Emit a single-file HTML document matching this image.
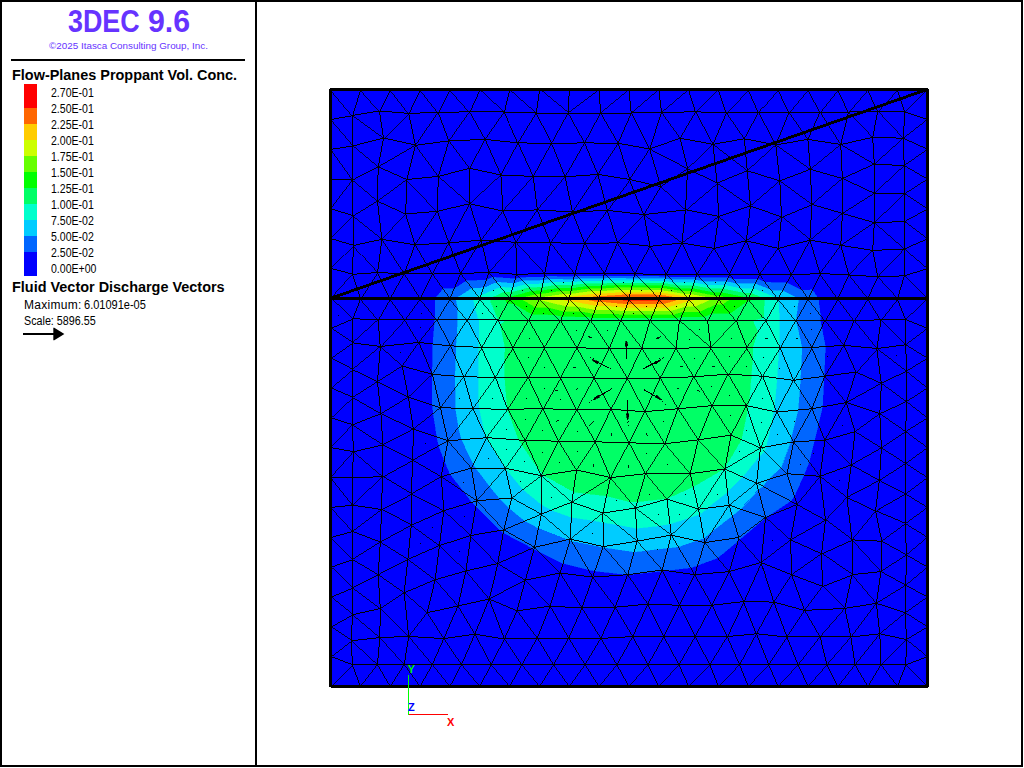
<!DOCTYPE html>
<html lang="en">
<head>
<meta charset="utf-8">
<title>3DEC 9.6 - Flow-Planes Proppant Vol. Conc.</title>
<style>
html,body{margin:0;padding:0;background:#fff;}
body{width:1024px;height:768px;position:relative;overflow:hidden;font-family:"Liberation Sans",sans-serif;color:#000;}
.frame{position:absolute;left:0;top:0;width:1019px;height:763px;border:2px solid #000;}
.vdiv{position:absolute;left:255px;top:0;width:2px;height:766px;background:#000;}
.rule{position:absolute;left:11px;top:59px;width:234px;height:2px;background:#000;}
.t{position:absolute;white-space:nowrap;line-height:1;}
.title{top:5.5px;font-size:30.6px;font-weight:bold;color:#6633ff;transform-origin:0 0;}
.copy{left:0;width:257px;text-align:center;top:40.5px;font-size:9.85px;color:#6633ff;}
.h{font-weight:bold;font-size:14.45px;left:12px;}
.lab{font-size:12px;left:51px;transform:scaleX(0.878);transform-origin:0 0;}
.sub{font-size:12px;left:24px;transform-origin:0 0;}
.sw{position:absolute;left:24px;width:13px;}
svg{position:absolute;left:0;top:0;}
</style>
</head>
<body>
<div class="frame"></div>
<div class="vdiv"></div>
<div><span class="t title" style="left:68px;transform:scaleX(0.878)">3DEC</span> <span class="t title" style="left:147.6px;transform:scaleX(0.99)">9.6</span></div>
<div class="t copy">&copy;2025 Itasca Consulting Group, Inc.</div>
<div class="rule"></div>
<div class="t h" style="top:68px">Flow-Planes Proppant Vol. Conc.</div>
<div class="sw" style="top:84px;height:24px;background:#ff0000"></div>
<div class="sw" style="top:108px;height:16px;background:#ff6600"></div>
<div class="sw" style="top:124px;height:16px;background:#ffcc00"></div>
<div class="sw" style="top:140px;height:16px;background:#ccff00"></div>
<div class="sw" style="top:156px;height:16px;background:#66ff00"></div>
<div class="sw" style="top:172px;height:16px;background:#00ff00"></div>
<div class="sw" style="top:188px;height:16px;background:#00ff66"></div>
<div class="sw" style="top:204px;height:16px;background:#00ffcc"></div>
<div class="sw" style="top:220px;height:16px;background:#00ccff"></div>
<div class="sw" style="top:236px;height:16px;background:#0066ff"></div>
<div class="sw" style="top:252px;height:24px;background:#0000ff"></div>
<div class="t lab" style="top:87px">2.70E-01</div>
<div class="t lab" style="top:103px">2.50E-01</div>
<div class="t lab" style="top:119px">2.25E-01</div>
<div class="t lab" style="top:135px">2.00E-01</div>
<div class="t lab" style="top:151px">1.75E-01</div>
<div class="t lab" style="top:167px">1.50E-01</div>
<div class="t lab" style="top:183px">1.25E-01</div>
<div class="t lab" style="top:199px">1.00E-01</div>
<div class="t lab" style="top:215px">7.50E-02</div>
<div class="t lab" style="top:231px">5.00E-02</div>
<div class="t lab" style="top:247px">2.50E-02</div>
<div class="t lab" style="top:263px">0.00E+00</div>
<div class="t h" style="top:280px">Fluid Vector Discharge Vectors</div>
<div><span class="t sub" style="top:299px;letter-spacing:0.3px">Maximum:</span> <span class="t sub" style="top:299px;left:84px;transform:scaleX(0.918)">6.01091e-05</span></div>
<div class="t sub" style="top:315px;transform:scaleX(0.895)">Scale: 5896.55</div>
<svg width="1024" height="768" viewBox="0 0 1024 768">
<!-- legend arrow -->
<g shape-rendering="crispEdges"><rect x="23" y="333" width="32" height="2" fill="#000"/></g>
<path d="M53.3 327.8L54.3 327.8L64.4 334L54.3 340.2L53.3 340.2Z" fill="#000"/>
<!-- plot -->
<g shape-rendering="crispEdges">
<rect x="330" y="89" width="597" height="597" fill="#0000ff"/>
<path d="M449.9 298.5L454.1 288.8L466.4 281L472 288.4L456.1 298.5ZM634.3 276.2L633.7 278.6L609.1 278.3L606.7 276ZM603.3 278.7L603.9 276.1L606.7 276L609.1 278.3ZM573.4 279.6L574 276.7L577.1 276.3L579.6 278.8ZM603.9 276.1L603.3 278.7L579.6 278.8L577.1 276.3ZM513.9 283.5L515.2 278.9L519.7 277.7L522.9 281ZM544.1 277L543.3 280.4L522.9 281L519.7 277.7ZM547.7 276.4L550.6 279.4L543.3 280.4L544.1 277ZM550.6 279.4L547.7 276.4L574 276.7L573.4 279.6ZM486.2 280.1L483.5 287.9L472 288.4L466.4 281ZM492.8 277.3L496.7 282.2L483.5 287.9L486.2 280.1ZM496.7 282.2L492.8 277.3L515.2 278.9L513.9 283.5ZM443.1 288.9L449.9 298.5L435.4 298.5ZM449.9 298.5L443.1 288.9L454.1 288.8ZM755.2 283.8L757.4 279.1L765.8 282.4L772 290.5ZM733.3 279L736.9 283.8L726.3 281.6L727.9 278ZM736.9 283.8L733.3 279L757.4 279.1L755.2 283.8ZM664.9 278.9L665.6 276.6L668.9 277.1L671.6 280ZM637.1 276.2L639.4 278.6L633.7 278.6L634.3 276.2ZM639.4 278.6L637.1 276.2L665.6 276.6L664.9 278.9ZM695.1 279.9L696 277.1L700.3 277.9L703.5 281.6ZM727.9 278L726.3 281.6L703.5 281.6L700.3 277.9ZM696 277.1L695.1 279.9L671.6 280L668.9 277.1ZM808.1 298.5L812.2 289.9L818.3 298.5ZM786.9 282.8L782.6 290.6L772 290.5L765.8 282.4ZM802.3 290.4L808.1 298.5L798.4 298.5L782.6 290.6L786.9 282.8ZM808.1 298.5L802.3 290.4L812.2 289.9Z" fill="#0066ff" stroke="#0066ff" stroke-width="0.6"/>
<path d="M472 288.4L477.7 295.8L473.5 298.5L456.1 298.5ZM633.7 278.6L633.2 280.9L611.4 280.7L609.1 278.3ZM602.8 281.2L603.3 278.7L609.1 278.3L611.4 280.7ZM572.7 282.5L573.4 279.6L579.6 278.8L582.1 281.4ZM603.3 278.7L602.8 281.2L582.1 281.4L579.6 278.8ZM512.6 288.1L513.9 283.5L522.9 281L526.1 284.4ZM543.3 280.4L542.6 283.9L526.1 284.4L522.9 281ZM550.6 279.4L553.5 282.3L542.6 283.9L543.3 280.4ZM553.5 282.3L550.6 279.4L573.4 279.6L572.7 282.5ZM483.5 287.9L480.7 295.7L477.7 295.8L472 288.4ZM496.7 282.2L500.7 287.2L480.7 295.7L483.5 287.9ZM500.7 287.2L496.7 282.2L513.9 283.5L512.6 288.1ZM753 288.5L755.2 283.8L772 290.5L778.2 298.5L778.2 298.5ZM736.9 283.8L740.6 288.5L724.6 285.3L726.3 281.6ZM740.6 288.5L736.9 283.8L755.2 283.8L753 288.5ZM664.2 281.2L664.9 278.9L671.6 280L674.2 282.8ZM639.4 278.6L641.7 280.9L633.2 280.9L633.7 278.6ZM641.7 280.9L639.4 278.6L664.9 278.9L664.2 281.2ZM694.1 282.8L695.1 279.9L703.5 281.6L706.8 285.2ZM726.3 281.6L724.6 285.3L706.8 285.2L703.5 281.6ZM695.1 279.9L694.1 282.8L674.2 282.8L671.6 280ZM782.6 290.6L778.2 298.5L772 290.5ZM798.4 298.5L778.2 298.5L782.6 290.6Z" fill="#00ccff" stroke="#00ccff" stroke-width="0.6"/>
<path d="M477.7 295.8L479.8 298.5L473.5 298.5ZM633.2 280.9L632.6 283.2L613.7 283L611.4 280.7ZM602.3 283.8L602.8 281.2L611.4 280.7L613.7 283ZM572.1 285.5L572.7 282.5L582.1 281.4L584.6 283.9ZM602.8 281.2L602.3 283.8L584.6 283.9L582.1 281.4ZM511.3 292.6L512.6 288.1L526.1 284.4L529.2 287.7ZM542.6 283.9L541.8 287.4L529.2 287.7L526.1 284.4ZM553.5 282.3L556.4 285.3L541.8 287.4L542.6 283.9ZM556.4 285.3L553.5 282.3L572.7 282.5L572.1 285.5ZM480.7 295.7L479.8 298.5L477.7 295.8ZM500.7 287.2L504.6 292.1L489.7 298.5L479.8 298.5L480.7 295.7ZM504.6 292.1L500.7 287.2L512.6 288.1L511.3 292.6ZM750.9 293.2L753 288.5L778.2 298.5L764.2 298.5ZM740.6 288.5L744.3 293.2L722.9 289L724.6 285.3ZM744.3 293.2L740.6 288.5L753 288.5L750.9 293.2ZM663.5 283.5L664.2 281.2L674.2 282.8L676.8 285.7ZM641.7 280.9L644 283.3L632.6 283.2L633.2 280.9ZM644 283.3L641.7 280.9L664.2 281.2L663.5 283.5ZM693.1 285.6L694.1 282.8L706.8 285.2L710.1 288.9ZM724.6 285.3L722.9 289L710.1 288.9L706.8 285.2ZM694.1 282.8L693.1 285.6L676.8 285.7L674.2 282.8Z" fill="#00ffcc" stroke="#00ffcc" stroke-width="0.6"/>
<path d="M632.6 283.2L632.1 285.5L616 285.4L613.7 283ZM601.7 286.3L602.3 283.8L613.7 283L616 285.4ZM571.5 288.4L572.1 285.5L584.6 283.9L587.1 286.4ZM602.3 283.8L601.7 286.3L587.1 286.4L584.6 283.9ZM510 297.2L511.3 292.6L529.2 287.7L532.4 291.1ZM541.8 287.4L541.1 290.9L532.4 291.1L529.2 287.7ZM556.4 285.3L559.2 288.2L541.1 290.9L541.8 287.4ZM559.2 288.2L556.4 285.3L572.1 285.5L571.5 288.4ZM504.6 292.1L508.5 297.1L505.2 298.5L489.7 298.5ZM508.5 297.1L504.6 292.1L511.3 292.6L510 297.2ZM748.7 297.9L750.9 293.2L764.2 298.5L750.1 298.5ZM744.3 293.2L748 297.9L721.2 292.6L722.9 289ZM748 297.9L744.3 293.2L750.9 293.2L748.7 297.9ZM662.7 285.8L663.5 283.5L676.8 285.7L679.4 288.5ZM644 283.3L646.3 285.6L632.1 285.5L632.6 283.2ZM646.3 285.6L644 283.3L663.5 283.5L662.7 285.8ZM692.1 288.5L693.1 285.6L710.1 288.9L713.3 292.6ZM722.9 289L721.2 292.6L713.3 292.6L710.1 288.9ZM693.1 285.6L692.1 288.5L679.4 288.5L676.8 285.7Z" fill="#00ff66" stroke="#00ff66" stroke-width="0.6"/>
<path d="M632.1 285.5L631.5 287.9L618.4 287.7L616 285.4ZM601.2 288.8L601.7 286.3L616 285.4L618.4 287.7ZM570.9 291.3L571.5 288.4L587.1 286.4L589.6 288.9ZM601.7 286.3L601.2 288.8L589.6 288.9L587.1 286.4ZM509.6 298.5L510 297.2L532.4 291.1L535.6 294.5L520.8 298.5ZM541.1 290.9L540.3 294.3L535.6 294.5L532.4 291.1ZM559.2 288.2L562.1 291.2L540.3 294.3L541.1 290.9ZM562.1 291.2L559.2 288.2L571.5 288.4L570.9 291.3ZM508.5 297.1L509.6 298.5L505.2 298.5ZM509.6 298.5L508.5 297.1L510 297.2ZM748.4 298.5L748.7 297.9L750.1 298.5ZM748 297.9L748.4 298.5L730.7 298.5L719.6 296.3L721.2 292.6ZM748.4 298.5L748 297.9L748.7 297.9ZM662 288.2L662.7 285.8L679.4 288.5L682.1 291.3ZM646.3 285.6L648.6 288L631.5 287.9L632.1 285.5ZM648.6 288L646.3 285.6L662.7 285.8L662 288.2ZM691.2 291.3L692.1 288.5L713.3 292.6L716.6 296.3ZM721.2 292.6L719.6 296.3L716.6 296.3L713.3 292.6ZM692.1 288.5L691.2 291.3L682.1 291.3L679.4 288.5Z" fill="#00ff00" stroke="#00ff00" stroke-width="0.6"/>
<path d="M631.5 287.9L631 290.2L620.7 290.1L618.4 287.7ZM600.7 291.4L601.2 288.8L618.4 287.7L620.7 290.1ZM570.2 294.2L570.9 291.3L589.6 288.9L592.1 291.4ZM601.2 288.8L600.7 291.4L592.1 291.4L589.6 288.9ZM535.6 294.5L538.8 297.8L536.3 298.5L520.8 298.5ZM540.3 294.3L539.6 297.8L538.8 297.8L535.6 294.5ZM562.1 291.2L565 294.1L539.6 297.8L540.3 294.3ZM565 294.1L562.1 291.2L570.9 291.3L570.2 294.2ZM730.7 298.5L718.5 298.5L719.6 296.3ZM661.3 290.5L662 288.2L682.1 291.3L684.7 294.2ZM648.6 288L650.9 290.3L631 290.2L631.5 287.9ZM650.9 290.3L648.6 288L662 288.2L661.3 290.5ZM690.2 294.2L691.2 291.3L716.6 296.3L718.5 298.5L712.3 298.5ZM719.6 296.3L718.5 298.5L716.6 296.3ZM691.2 291.3L690.2 294.2L684.7 294.2L682.1 291.3Z" fill="#66ff00" stroke="#66ff00" stroke-width="0.6"/>
<path d="M631 290.2L630.4 292.5L623 292.5L620.7 290.1ZM600.1 293.9L600.7 291.4L620.7 290.1L623 292.5ZM569.6 297.1L570.2 294.2L592.1 291.4L594.6 294ZM600.7 291.4L600.1 293.9L594.6 294L592.1 291.4ZM538.8 297.8L539.5 298.5L536.3 298.5ZM539.6 297.8L539.5 298.5L538.8 297.8ZM565 294.1L567.9 297.1L558.1 298.5L539.5 298.5L539.6 297.8ZM567.9 297.1L565 294.1L570.2 294.2L569.6 297.1ZM660.6 292.8L661.3 290.5L684.7 294.2L687.3 297ZM650.9 290.3L653.2 292.7L630.4 292.5L631 290.2ZM653.2 292.7L650.9 290.3L661.3 290.5L660.6 292.8ZM689.2 297L690.2 294.2L712.3 298.5L696.8 298.5ZM690.2 294.2L689.2 297L687.3 297L684.7 294.2Z" fill="#ccff00" stroke="#ccff00" stroke-width="0.6"/>
<path d="M630.4 292.5L629.9 294.9L625.4 294.8L623 292.5ZM599.6 296.5L600.1 293.9L623 292.5L625.4 294.8ZM581.1 298.5L569.3 298.5L569.6 297.1L594.6 294L597.1 296.5ZM600.1 293.9L599.6 296.5L597.1 296.5L594.6 294ZM567.9 297.1L569.3 298.5L558.1 298.5ZM569.3 298.5L567.9 297.1L569.6 297.1ZM688.7 298.5L681.4 298.5L659.9 295.1L660.6 292.8L687.3 297ZM653.2 292.7L655.5 295L629.9 294.9L630.4 292.5ZM655.5 295L653.2 292.7L660.6 292.8L659.9 295.1ZM688.7 298.5L689.2 297L696.8 298.5ZM689.2 297L688.7 298.5L687.3 297Z" fill="#ffcc00" stroke="#ffcc00" stroke-width="0.6"/>
<path d="M629.9 294.9L629.3 297.2L627.7 297.2L625.4 294.8ZM599.2 298.5L599.6 296.5L625.4 294.8L627.7 297.2L607 298.5ZM599.2 298.5L581.1 298.5L597.1 296.5ZM599.6 296.5L599.2 298.5L597.1 296.5ZM681.4 298.5L666.2 298.5L659.2 297.4L659.9 295.1ZM655.5 295L657.7 297.4L629.3 297.2L629.9 294.9ZM657.7 297.4L655.5 295L659.9 295.1L659.2 297.4Z" fill="#ff6600" stroke="#ff6600" stroke-width="0.6"/>
<path d="M629.3 297.2L629 298.5L627.7 297.2ZM627.7 297.2L629 298.5L607 298.5ZM666.2 298.5L658.9 298.5L659.2 297.4ZM657.7 297.4L658.9 298.5L629 298.5L629.3 297.2ZM658.9 298.5L657.7 297.4L659.2 297.4Z" fill="#ff0000" stroke="#ff0000" stroke-width="0.6"/>
<path d="M603.1 547.3L594.9 570.9L588.3 569.6L571.5 541ZM568 539.7L534.6 547.3L538.5 528.1ZM440.4 407.7L432.4 374.6L432.4 374.3L455.3 376.1L455.5 387.7ZM450.5 345.9L432.4 374.2L432.9 344ZM450.5 345.9L456.3 346.2L456 358.7ZM432.4 374.2L450.5 345.9L456 358.7L455.3 376.1L432.4 374.3ZM532.6 548.2L534.6 547.3L534.1 549ZM534.6 547.3L503.8 529.8L525 521L538.5 528.1ZM476.9 500.7L503.8 529.8L500.1 530.4L475.9 506.4ZM503.8 529.8L503.3 532.7L500.1 530.4ZM503.3 532.7L503.8 529.8L534.6 547.3L532.6 548.2ZM455.6 408.2L440.4 407.7L455.5 387.7ZM472 502.2L476.9 500.7L475.9 506.4ZM476.9 500.7L472 502.2L464.5 492.4ZM534.6 547.3L538.4 551.1L534.1 549ZM563.1 563.3L569.9 540.6L571.5 541L588.3 569.6ZM538.4 551.1L534.6 547.3L568 539.7L569.9 540.6L563.1 563.3ZM762.7 486.5L790.6 501.1L767 516.8L765.6 517.4L758.2 489.5ZM662.2 570L665.7 570.5L662.6 570.9ZM447.9 440.8L458.6 427.1L461.8 439.7ZM458.6 427.1L447.9 440.8L440.4 407.7L455.6 408.2ZM440.4 407.7L432.5 405.1L432.4 374.6ZM436.9 319.7L450.5 345.9L432.9 344L434.7 322.4ZM436.9 319.7L434.5 319.7L435.1 317.5ZM434.5 319.7L436.9 319.7L434.7 322.4ZM471.3 468.2L476.9 500.7L464.5 492.4L450.2 474.1ZM471.3 468.2L476 468.2L489.6 486.2L476.9 500.7ZM476 468.2L471.3 468.2L473.4 464.1ZM471.3 468.2L447.9 440.8L461.8 439.7L473.4 464.1ZM447.9 440.8L471.3 468.2L450.2 474.1L444.3 460.3ZM795.8 320.4L795.8 320.4L795.8 320.4ZM795.8 320.4L795.8 320.4L795.8 320.4ZM668 547.9L662.2 570L645.3 550.6ZM678.2 546.8L690.6 567.7L665.7 570.5L662.2 570L668 547.9ZM604 547.4L627.7 574.7L594.9 570.9L603.1 547.3ZM634.2 551.8L627.7 574.7L627.7 574.7L604 547.4ZM627.7 574.7L634.2 551.8L645.3 550.6L662.2 570L629.2 574.5ZM661.8 571L662.2 570L662.6 570.9ZM629.2 574.5L662.2 570L661.8 571ZM787 473.7L767.8 479.7L780.8 467.6ZM767.8 479.7L787 473.7L794.3 496.1L790.6 501.1L762.7 486.5ZM740.2 539L738.8 537.5L765.6 517.4L765.6 517.7ZM765.6 517.7L765.6 517.4L765.8 517.6ZM765.8 517.6L765.6 517.4L767 516.8ZM808.1 298.5L795.8 320.4L795.8 320.4L798.4 298.5ZM820.3 314.2L808.1 298.5L818.3 298.5ZM808.1 298.5L820.3 314.2L820.1 320.3L795.8 320.4ZM822.4 406.8L811.9 408.7L823.9 378.8ZM793.7 441.8L787 473.7L780.8 467.6L790 442.5ZM793.7 441.8L791.2 437.4L797.9 410.1L811.9 408.7ZM791.2 437.4L793.7 441.8L790 442.5ZM447.9 440.8L437 437.1L433.3 413.3L440.4 407.7ZM432.5 405.1L440.4 407.7L433.3 413.3ZM503.8 529.8L509.3 508.2L525 521ZM500 498.9L476.9 500.7L489.6 486.2ZM509.3 508.2L503.8 529.8L476.9 500.7L500 498.9ZM696.2 540.7L704.8 542.6L697.6 565.3L690.6 567.7L678.2 546.8ZM814.4 440.7L793.7 441.8L811.9 408.7L818.3 424.3ZM818.3 424.3L811.9 408.7L822.4 406.8ZM438.8 445.8L447.9 440.8L444.3 460.3ZM437 437.1L447.9 440.8L438.8 445.8ZM449.9 298.5L436.9 319.7L435.1 317.5L435.4 298.5ZM737.8 541.2L738.8 537.5L740.2 539ZM704.8 542.6L717.6 557.9L697.6 565.3ZM717.6 557.9L704.8 542.6L738.8 537.5L737.8 541.2ZM703.9 538.1L704.8 542.6L696.2 540.7ZM811.9 347.5L825.3 346.6L824.1 374.5ZM825.3 346.6L811.9 347.5L821.6 327.4ZM795.8 320.4L811.9 347.5L801.9 347.6L795.8 320.4ZM821.6 327.4L811.9 347.5L795.8 320.4L820.1 320.3ZM811.9 347.5L800.9 367L801.9 347.6ZM800.9 367L811.9 347.5L824.1 374.5L824 376.3L800.3 379.4ZM811.9 408.7L799.6 389.9L800.3 379.4L824 376.3L823.9 378.8ZM799.6 389.9L811.9 408.7L797.9 410.1ZM450.5 345.9L457 335.7L456.3 346.2ZM458 308.6L449.9 298.5L456.1 298.5ZM436.9 319.7L457.9 319.8L457 335.7L450.5 345.9ZM449.9 298.5L458 308.6L457.9 319.8L436.9 319.7ZM704.8 542.6L712.1 531.3L732.3 515.7L738.8 537.5ZM712.1 531.3L704.8 542.6L703.9 538.1ZM758.2 489.5L765.6 517.4L740.4 509ZM738.8 537.5L732.3 515.7L740.4 509L765.6 517.4ZM787 473.7L803.8 475L794.3 496.1ZM793.7 441.8L809.1 462L803.8 475L787 473.7ZM809.1 462L793.7 441.8L814.4 440.7Z" fill="#0066ff" stroke="#0066ff" stroke-width="0.6"/>
<path d="M570.4 539.1L603.3 546.6L603.1 547.3L571.5 541ZM570.4 539.1L568 539.7L538.5 528.1L541.3 514.2ZM570.4 539.1L593.6 520.5L603 522.4L603.3 546.6ZM455.3 376.1L463.7 376.8L455.5 387.7ZM456.3 346.2L478.7 347.3L478.5 352.8L463.7 376.8L456 358.7ZM456 358.7L463.7 376.8L455.3 376.1ZM637.2 541.2L617 524.6L636.5 528.2ZM617 524.6L637.2 541.2L603.3 546.6L603 522.4ZM525 521L541.3 514.2L538.5 528.1ZM472.9 408.7L479.5 408.8L485.4 435.4ZM472.9 408.7L455.6 408.2L455.5 387.7L463.7 376.8ZM478.9 377L463.7 376.8L478.5 352.8ZM478.6 400.7L472.9 408.7L463.7 376.8L478.9 377ZM472.9 408.7L478.6 400.7L479.5 408.8ZM569.9 540.6L570.4 539.1L571.5 541ZM568 539.7L570.4 539.1L569.9 540.6ZM759.6 455.9L756.5 483.2L742.5 476.9ZM756.5 483.2L762.7 486.5L758.2 489.5ZM458.6 427.1L472.9 408.7L485.4 435.4L486 437.7L461.8 439.7ZM472.9 408.7L458.6 427.1L455.6 408.2ZM476 468.2L505.4 468.2L505.4 468.2L489.6 486.2ZM505.4 468.2L476 468.2L473.4 464.1L486.2 438.2ZM461.8 439.7L486 437.7L486.2 438.2L473.4 464.1ZM779.5 320.4L795.8 320.4L780.3 347.9L779.2 345.9ZM795.8 320.4L779.5 320.4L778.2 298.5L778.2 298.5ZM778.2 298.5L778.2 298.5L778.2 298.5ZM637.2 541.2L671.3 535.1L668 547.9L645.3 550.6ZM671.3 535.1L678.2 546.8L668 547.9ZM671.3 535.1L637.2 541.2L636.5 528.2L658.8 525.7ZM669.9 523.9L671.3 535.1L658.8 525.7ZM603.3 546.6L604 547.4L603.1 547.3ZM637.2 541.2L634.2 551.8L604 547.4L603.3 546.6ZM634.2 551.8L637.2 541.2L645.3 550.6ZM767.8 479.7L756.5 483.2L759.6 455.9L764.3 451.6L780.8 467.6ZM756.5 483.2L767.8 479.7L762.7 486.5ZM795.8 320.4L795.8 320.4L778.2 298.5L798.4 298.5ZM795.8 320.4L795.8 320.4L795.8 320.4ZM780.8 467.6L764.3 451.6L766 446.9L790 442.5ZM791.2 437.4L776.8 412.1L797.9 410.1ZM773.6 411.4L776.8 412.1L771 424.9ZM776.8 412.1L791.2 437.4L790 442.5L766 446.9L771 424.9ZM511.9 498L523.1 489.5L541.3 504.3L541.3 514.2ZM523.1 489.5L511.9 498L505.4 468.2ZM509.3 508.2L511.9 498L541.3 514.2L525 521ZM505.4 468.2L511.9 498L500 498.9L489.6 486.2L505.4 468.2ZM511.9 498L509.3 508.2L500 498.9ZM779.2 345.9L780.3 347.9L778.6 347.9ZM571.2 517.2L570.4 539.1L541.3 514.2L551.6 510.1ZM593.6 520.5L570.4 539.1L571.2 517.2ZM551.6 510.1L541.3 514.2L541.3 504.3ZM671.3 535.1L696.2 540.7L678.2 546.8ZM774.4 406L776.8 412.1L773.6 411.4ZM778.6 347.9L780.3 347.9L778.6 350.6ZM689.4 517.7L671.3 535.1L669.9 523.9ZM699.5 514.3L703.9 538.1L696.2 540.7L671.3 535.1L689.4 517.7ZM795.8 320.4L795.8 320.4L801.9 347.6L780.3 347.9ZM795.8 320.4L795.8 320.4L795.8 320.4ZM793.4 380.3L777 378.1L778.6 350.6L780.3 347.9ZM800.9 367L793.4 380.3L780.3 347.9L801.9 347.6ZM793.4 380.3L800.9 367L800.3 379.4ZM799.6 389.9L793.4 380.3L800.3 379.4ZM776.8 412.1L793.4 380.3L799.6 389.9L797.9 410.1ZM777 378.1L793.4 380.3L776.8 412.1L774.4 406ZM467.1 319.8L479 319.9L479 342.2ZM479 319.9L467.1 319.8L475 306.5ZM457 335.7L467.1 319.8L479 342.2L478.7 347.3L456.3 346.2ZM467.1 319.8L458 308.6L456.1 298.5L473.5 298.5L475 306.5ZM457.9 319.8L467.1 319.8L457 335.7ZM458 308.6L467.1 319.8L457.9 319.8ZM712.1 531.3L729.1 505.2L732.3 515.7ZM707.2 507.9L729.1 505.2L712.1 531.3L703.9 538.1L699.5 514.3ZM729.1 505.2L756.5 483.2L758.2 489.5L740.4 509ZM732.3 515.7L729.1 505.2L740.4 509ZM756.5 483.2L729.1 505.2L727.5 492L742.5 476.9ZM729.1 505.2L707.2 507.9L727.5 492Z" fill="#00ccff" stroke="#00ccff" stroke-width="0.6"/>
<path d="M593.6 520.5L602.9 513L603 522.4ZM478.7 347.3L481.8 347.5L478.5 352.8ZM617 524.6L602.9 513L635.4 508.1L636.5 528.2ZM602.9 513L617 524.6L603 522.4ZM602.9 513L606.6 495.8L630.2 501.8L635.4 508.1ZM479.5 408.8L507.5 409.3L507.6 409.6L486.5 437.7L485.4 435.4ZM481.8 347.5L495.4 377.3L478.9 377L478.5 352.8ZM495.4 377.3L478.6 400.7L478.9 377ZM478.6 400.7L495.4 377.3L507.4 408.1L507.5 409.3L479.5 408.8ZM760.5 447.9L759.6 455.9L742.5 476.9L724.8 469ZM741.3 439.6L760.5 447.9L724.8 469L725.1 467.4ZM747.6 409.4L760.5 447.9L741.3 439.6ZM504.5 361.8L495.4 377.3L481.8 347.5L505.2 347.5ZM485.4 435.4L486.5 437.7L486 437.7ZM541.3 475.7L537.8 468.2L542.4 473.5ZM537.8 468.2L541.3 475.7L505.4 468.2L522 444.8ZM518.9 440L486.5 437.7L507.6 409.6ZM522 444.8L505.4 468.2L486.5 437.7L518.9 440ZM505.4 468.2L505.4 468.2L505.4 468.2ZM505.4 468.2L505.4 468.2L486.2 438.2L486.5 437.7ZM486 437.7L486.5 437.7L486.2 438.2ZM765.8 320.4L779.5 320.4L779.2 345.9ZM779.5 320.4L765.8 320.4L778.2 298.5ZM765.8 320.4L763.6 317.7L764.2 298.5L778.2 298.5L778.2 298.5ZM763.6 317.7L765.8 320.4L752.6 320.4ZM636.5 528.2L635.4 508.1L658.8 525.7ZM666.9 499.1L669.9 523.9L658.8 525.7L635.4 508.1ZM543.5 475.4L541.3 475.7L542.4 473.5ZM759.6 455.9L760.5 447.9L764.3 451.6ZM764.3 451.6L760.5 447.9L766 446.9ZM748.2 406L773.6 411.4L771 424.9L760.5 447.9L747.6 409.4ZM766 446.9L760.5 447.9L771 424.9ZM666.4 498.5L666.9 499.1L635.4 508.1L637.3 501.7ZM637.3 501.7L635.4 508.1L630.2 501.8ZM504.8 377.3L495.4 377.3L504.5 361.8ZM495.4 377.3L504.8 377.3L507.4 408.1ZM523.1 489.5L541.3 475.7L541.3 504.3ZM541.3 475.7L523.1 489.5L505.4 468.2L505.4 468.2ZM505.4 468.2L505.4 468.2L505.4 468.2ZM757.7 332L765.8 320.4L779.2 345.9L778.6 347.9L752.5 347.6ZM765.8 320.4L757.7 332L752.6 320.4ZM571.8 502.1L585.3 493.5L606.6 495.8L602.9 513ZM571.8 502.1L573.3 491.9L585.3 493.5ZM571.8 502.1L571.2 517.2L551.6 510.1ZM571.8 502.1L602.9 513L593.6 520.5L571.2 517.2ZM541.3 475.7L571.8 502.1L551.6 510.1L541.3 504.3ZM573.3 491.9L571.8 502.1L541.3 475.7L543.5 475.4ZM762.6 376.2L774.4 406L773.6 411.4L748.2 406L749 400.7ZM762.6 376.2L752.6 357.9L752.5 347.6L778.6 347.9L778.6 350.6ZM751.2 375.5L762.6 376.2L749 400.7ZM752.6 357.9L762.6 376.2L751.2 375.5ZM497.7 320L479.8 298.5L489.7 298.5L498.2 319ZM497.7 320L500.4 324.8L505.2 347.5L481.8 347.5ZM506.1 320L497.7 320L498.2 319ZM497.7 320L506.1 320L500.4 324.8ZM725.1 467.4L724.8 469L724.1 468.2ZM698.5 509L689.4 517.7L669.9 523.9L666.9 499.1ZM698.5 509L699.5 514.3L689.4 517.7ZM777 378.1L762.6 376.2L778.6 350.6ZM762.6 376.2L777 378.1L774.4 406ZM479 319.9L497.7 320L481.8 347.5L479 342.2ZM497.7 320L479 319.9L475 306.5L479.8 298.5ZM479 342.2L481.8 347.5L478.7 347.3ZM473.5 298.5L479.8 298.5L475 306.5ZM724.1 468.2L724.8 469L723.3 469.2ZM698.5 509L693.3 486.7L723.3 469.2L724.8 469ZM693.3 486.7L698.5 509L666.9 499.1L667.8 498.1ZM667.8 498.1L666.9 499.1L666.4 498.5ZM698.5 509L707.2 507.9L699.5 514.3ZM727.5 492L724.8 469L742.5 476.9ZM707.2 507.9L698.5 509L724.8 469L727.5 492Z" fill="#00ffcc" stroke="#00ffcc" stroke-width="0.6"/>
<path d="M576.9 409.7L558.6 441.2L542.8 408.7ZM558.6 441.2L576.9 409.7L595.2 441.8ZM560.6 377.5L576.9 409.7L542.8 408.7ZM576.9 409.7L560.6 377.5L594.1 378ZM641.9 348.3L650 320.4L676 348.3ZM609.4 348.3L627.3 378.2L594.1 378ZM627.3 378.2L609.4 348.3L641.9 348.3ZM606.6 495.8L610.4 477.7L630.2 501.8ZM507.5 409.3L507.8 409.3L507.6 409.6ZM507.4 408.1L507.8 409.3L507.5 409.3ZM731.1 435.1L741.3 439.6L725.1 467.4ZM731.1 435.1L746.3 405.6L747.6 409.4L741.3 439.6ZM512.9 347.5L504.5 361.8L505.2 347.5ZM558.6 441.2L525.1 440.4L542.8 408.7ZM525.1 440.4L507.8 409.3L542.8 408.7ZM537.8 468.2L525.1 440.4L558.6 441.2L542.4 473.5ZM525.1 440.4L537.8 468.2L522 444.8ZM507.8 409.3L525.1 440.4L518.9 440L507.6 409.6ZM525.1 440.4L522 444.8L518.9 440ZM560.6 377.5L576.9 347.9L594.1 378ZM576.9 347.9L609.4 348.3L594.1 378ZM651 317.9L650 320.4L647.6 317.9ZM660.2 378L641.9 348.3L676 348.3ZM660.2 378L627.3 378.2L641.9 348.3ZM746.8 301.4L736.2 320.4L730.3 313.1ZM763.6 317.7L750 300.6L750.1 298.5L764.2 298.5ZM750 300.6L763.6 317.7L752.6 320.4L736.2 320.4L746.8 301.4ZM576.5 470.2L558.6 441.2L595.2 441.8ZM610.4 477.7L576.5 470.2L595.2 441.8ZM576.5 470.2L543.5 475.4L542.4 473.5L558.6 441.2ZM746.3 405.6L748.2 406L747.6 409.4ZM645.5 473.7L666.4 498.5L637.3 501.7ZM610.4 477.7L645.5 473.7L637.3 501.7L630.2 501.8ZM512.9 347.5L528.1 377.3L504.8 377.3L504.5 361.8ZM528.1 377.3L560.6 377.5L542.8 408.7ZM507.8 409.3L528.1 377.3L542.8 408.7ZM504.8 377.3L528.1 377.3L507.8 409.3L507.4 408.1ZM544.4 347.5L576.9 347.9L560.6 377.5ZM528.1 377.3L544.4 347.5L560.6 377.5ZM544.4 347.5L528.1 377.3L512.9 347.5ZM650 320.4L679.4 320.4L676 348.3ZM677 317.9L679.4 320.4L650 320.4L651 317.9ZM746.9 347.5L757.7 332L752.5 347.6ZM757.7 332L746.9 347.5L736.2 320.4L752.6 320.4ZM679.4 320.4L710.9 347.5L676 348.3ZM746.9 347.5L710.9 347.5L736.2 320.4ZM710.9 347.5L746.9 347.5L728.2 374.2ZM585.3 493.5L610.4 477.7L606.6 495.8ZM573.3 491.9L576.5 470.2L610.4 477.7L585.3 493.5ZM576.5 470.2L573.3 491.9L543.5 475.4ZM748.2 406L746.3 405.6L749 400.7ZM752.6 357.9L746.9 347.5L752.5 347.6ZM728.2 374.2L751.2 375.5L749 400.7L746.3 405.6ZM746.9 347.5L752.6 357.9L751.2 375.5L728.2 374.2ZM489.7 298.5L505.2 298.5L507.1 303L498.2 319ZM500.4 324.8L512.9 347.5L505.2 347.5ZM576.9 347.9L590.5 320.3L609.4 348.3ZM528.6 320L544.4 347.5L512.9 347.5ZM528.6 320L506.1 320L498.2 319L507.1 303L514.4 303.9ZM506.1 320L528.6 320L512.9 347.5L500.4 324.8ZM681 316.7L679.4 320.4L677 317.9ZM693.7 376.8L710.9 347.5L728.2 374.2ZM693.7 376.8L678 408.7L660.2 378ZM693.7 376.8L660.2 378L676 348.3ZM710.9 347.5L693.7 376.8L676 348.3ZM736.2 320.4L707.7 320.5L711.2 313.4L730.3 313.1ZM710.9 347.5L707.7 320.5L736.2 320.4ZM707.7 320.5L710.9 347.5L679.4 320.4ZM707.7 320.5L704.3 316.6L711.2 313.4ZM704.3 316.6L707.7 320.5L679.4 320.4L681 316.7ZM698.3 439.8L731.1 435.1L725.1 467.4L724.1 468.2ZM660.2 378L644.9 411.7L627.3 378.2ZM678 408.7L644.9 411.7L660.2 378ZM591.6 317.5L590.5 320.3L586.9 316.6ZM590.5 320.3L620.8 320.4L609.4 348.3ZM650 320.4L620.8 320.4L621.7 317.9L647.6 317.9ZM620.8 320.4L618 317.5L621.7 317.9ZM618 317.5L620.8 320.4L590.5 320.3L591.6 317.5ZM609.4 348.3L620.8 320.4L641.9 348.3ZM620.8 320.4L650 320.4L641.9 348.3ZM531.6 314.1L528.6 320L514.4 303.9ZM528.6 320L560.3 320.3L544.4 347.5ZM544.4 347.5L560.3 320.3L576.9 347.9ZM560.3 320.3L554.9 314.7L561.9 316.4ZM554.9 314.7L560.3 320.3L528.6 320L531.6 314.1ZM560.3 320.3L590.5 320.3L576.9 347.9ZM590.5 320.3L560.3 320.3L561.9 316.4L586.9 316.6ZM712 405.6L728.2 374.2L746.3 405.6ZM712 405.6L693.7 376.8L728.2 374.2ZM693.7 376.8L712 405.6L678 408.7ZM731.1 435.1L712 405.6L746.3 405.6ZM698.3 439.8L712 405.6L731.1 435.1ZM712 405.6L698.3 439.8L678 408.7ZM690.2 473.7L698.3 439.8L724.1 468.2L723.3 469.2ZM693.3 486.7L690.2 473.7L723.3 469.2ZM690.2 473.7L693.3 486.7L667.8 498.1ZM645.5 473.7L690.2 473.7L667.8 498.1L666.4 498.5ZM576.9 409.7L611 409.3L595.2 441.8ZM644.9 411.7L611 409.3L627.3 378.2ZM611 409.3L576.9 409.7L594.1 378ZM627.3 378.2L611 409.3L594.1 378ZM629.1 442.8L610.4 477.7L595.2 441.8ZM629.1 442.8L645.5 473.7L610.4 477.7ZM611 409.3L629.1 442.8L595.2 441.8ZM629.1 442.8L611 409.3L644.9 411.7ZM698.3 439.8L664.8 443.8L678 408.7ZM664.8 443.8L644.9 411.7L678 408.7ZM664.8 443.8L629.1 442.8L644.9 411.7ZM629.1 442.8L664.8 443.8L645.5 473.7ZM664.8 443.8L690.2 473.7L645.5 473.7ZM690.2 473.7L664.8 443.8L698.3 439.8Z" fill="#00ff66" stroke="#00ff66" stroke-width="0.6"/>
<path d="M652.5 314.3L651 317.9L647.6 317.9L644.2 314.4ZM748.4 298.5L746.8 301.4L730.3 313.1L723 304L730.7 298.5ZM750 300.6L748.4 298.5L750.1 298.5ZM748.4 298.5L750 300.6L746.8 301.4ZM673.7 314.3L677 317.9L651 317.9L652.5 314.3ZM505.2 298.5L509.6 298.5L507.1 303ZM507.1 303L509.6 298.5L514.4 303.9ZM683.2 311.5L681 316.7L677 317.9L673.7 314.3ZM711.2 313.4L715.8 304.1L723 304L730.3 313.1ZM704.3 316.6L699.9 311.5L715.8 304.1L711.2 313.4ZM699.9 311.5L704.3 316.6L681 316.7L683.2 311.5ZM593.2 313.5L591.6 317.5L586.9 316.6L581.8 311.4ZM621.7 317.9L623 314.4L644.2 314.4L647.6 317.9ZM618 317.5L614.1 313.6L623 314.4L621.7 317.9ZM614.1 313.6L618 317.5L591.6 317.5L593.2 313.5ZM535.2 307L531.6 314.1L514.4 303.9L509.6 298.5L520.8 298.5ZM554.9 314.7L547.9 307.3L564 311.3L561.9 316.4ZM547.9 307.3L554.9 314.7L531.6 314.1L535.2 307ZM561.9 316.4L564 311.3L581.8 311.4L586.9 316.6Z" fill="#00ff00" stroke="#00ff00" stroke-width="0.6"/>
<path d="M653.9 310.8L652.5 314.3L644.2 314.4L640.9 310.9ZM723 304L718.5 298.5L730.7 298.5ZM670.4 310.8L673.7 314.3L652.5 314.3L653.9 310.8ZM685.4 306.4L683.2 311.5L673.7 314.3L670.4 310.8ZM715.8 304.1L718.5 298.5L723 304ZM699.9 311.5L695.4 306.3L712.3 298.5L718.5 298.5L715.8 304.1ZM695.4 306.3L699.9 311.5L683.2 311.5L685.4 306.4ZM594.8 309.6L593.2 313.5L581.8 311.4L576.8 306.2ZM623 314.4L624.4 310.9L640.9 310.9L644.2 314.4ZM614.1 313.6L610.1 309.6L624.4 310.9L623 314.4ZM610.1 309.6L614.1 313.6L593.2 313.5L594.8 309.6ZM538.7 299.9L535.2 307L520.8 298.5L536.3 298.5ZM547.9 307.3L540.9 300L566.2 306.1L564 311.3ZM540.9 300L547.9 307.3L535.2 307L538.7 299.9ZM564 311.3L566.2 306.1L576.8 306.2L581.8 311.4Z" fill="#66ff00" stroke="#66ff00" stroke-width="0.6"/>
<path d="M655.3 307.3L653.9 310.8L640.9 310.9L637.6 307.4ZM667.1 307.3L670.4 310.8L653.9 310.8L655.3 307.3ZM687.6 301.2L685.4 306.4L670.4 310.8L667.1 307.3ZM695.4 306.3L691 301.2L696.8 298.5L712.3 298.5ZM691 301.2L695.4 306.3L685.4 306.4L687.6 301.2ZM596.3 305.6L594.8 309.6L576.8 306.2L571.7 301ZM624.4 310.9L625.7 307.4L637.6 307.4L640.9 310.9ZM610.1 309.6L606.2 305.6L625.7 307.4L624.4 310.9ZM606.2 305.6L610.1 309.6L594.8 309.6L596.3 305.6ZM539.5 298.5L538.7 299.9L536.3 298.5ZM540.9 300L539.5 298.5L558.1 298.5L568.3 301L566.2 306.1ZM539.5 298.5L540.9 300L538.7 299.9ZM566.2 306.1L568.3 301L571.7 301L576.8 306.2Z" fill="#ccff00" stroke="#ccff00" stroke-width="0.6"/>
<path d="M656.7 303.7L655.3 307.3L637.6 307.4L634.2 303.9ZM663.8 303.7L667.1 307.3L655.3 307.3L656.7 303.7ZM688.7 298.5L687.6 301.2L667.1 307.3L663.8 303.7L681.4 298.5ZM691 301.2L688.7 298.5L696.8 298.5ZM688.7 298.5L691 301.2L687.6 301.2ZM597.9 301.7L596.3 305.6L571.7 301L569.3 298.5L581.1 298.5ZM625.7 307.4L627 303.9L634.2 303.9L637.6 307.4ZM606.2 305.6L602.3 301.7L627 303.9L625.7 307.4ZM602.3 301.7L606.2 305.6L596.3 305.6L597.9 301.7ZM558.1 298.5L569.3 298.5L568.3 301ZM568.3 301L569.3 298.5L571.7 301Z" fill="#ffcc00" stroke="#ffcc00" stroke-width="0.6"/>
<path d="M658.2 300.2L656.7 303.7L634.2 303.9L630.9 300.5ZM660.4 300.2L663.8 303.7L656.7 303.7L658.2 300.2ZM663.8 303.7L660.4 300.2L666.2 298.5L681.4 298.5ZM599.2 298.5L597.9 301.7L581.1 298.5ZM627 303.9L628.3 300.5L630.9 300.5L634.2 303.9ZM602.3 301.7L599.2 298.5L607 298.5L628.3 300.5L627 303.9ZM599.2 298.5L602.3 301.7L597.9 301.7Z" fill="#ff6600" stroke="#ff6600" stroke-width="0.6"/>
<path d="M658.9 298.5L658.2 300.2L630.9 300.5L629 298.5ZM658.9 298.5L660.4 300.2L658.2 300.2ZM660.4 300.2L658.9 298.5L666.2 298.5ZM628.3 300.5L629 298.5L630.9 300.5ZM607 298.5L629 298.5L628.3 300.5Z" fill="#ff0000" stroke="#ff0000" stroke-width="0.6"/>
<path d="M330.5 298.5L352.4 274.3M479.8 89.5L504.2 112M539.5 298.5L516.5 274.3M569.3 298.5L544.8 273.5M599.2 298.5L574.6 273.8M629 298.5L604.4 273.6M658.9 298.5L634.8 273.9M688.7 298.5L666.3 274.3M718.5 89.5L695.7 111.8M748.4 89.5L726.5 113M897.6 89.5L877.8 111M897.6 298.5L877.8 276.8M927.5 89.5L904.8 111.8M927.5 298.5L904.4 275.8M330.5 238.8L353 216M330.5 268.6L353.4 245.5M408.7 113.4L383.5 138.2M848.5 112L872.7 137.4M877.8 111L903.3 138.2M713 144.3L687.6 168.7M775.8 144.9L747.3 170.7M406.9 179.5L437.3 211.3M500.9 175L469.6 203.8M660.8 186.6L685.5 209.9M904.2 165.6L874.3 193.3M405.6 214L381.9 239.3M643.9 214.6L617.5 242.9M904.8 193.7L874.3 222.7M515.9 242.3L488.9 272.3M515.9 242.3L544.8 273.5M872.7 250.4L848.8 274.9M904.4 249L877.8 276.8M330.5 298.5L352.4 318.8M330.5 686.5L352.4 665M539.5 298.5L560.3 320.3M569.3 298.5L590.5 320.3M599.2 298.5L620.8 320.4M629 298.5L650 320.4M658.9 298.5L679.4 320.4M658.9 686.5L679 664.8M688.7 686.5L709.9 664.8M718.5 686.5L739.6 664.8M748.4 686.5L768.7 664.8M778.2 686.5L798.1 664.8M927.5 298.5L905.8 319.5M927.5 686.5L905.8 664.8M330.5 417.9L352.4 397.5M330.5 447.7L352.4 424.9M330.5 507.4L352.4 531.4M330.5 537.3L352.4 559.4M330.5 567.1L352.4 587.9M378.2 319.5L352.4 342.8M404.8 319.5L380.3 346.5M650 320.4L676 348.3M736.2 320.4L710.9 347.5M881 319.9L905.8 344.8M432.3 374.3L408.3 397.1M698.3 439.8L724.8 469M760.5 447.9L787 473.7M824.9 440.2L851.3 464.9M690.2 473.7L666.9 499.1M382.5 476.7L352.4 505.1M443.8 510.7L470.8 535.5M476.9 500.7L503.8 529.8M698.5 509L671.3 535.1M765.6 517.4L790.6 539.9M846.9 497.4L825.5 520.2M439.4 545.6L465.8 571M470.8 535.5L497.7 563.5M534.6 547.3L560.2 573M852 539.9L881 571.6M525.3 580.2L550.1 606.1M822.5 586.3L844.8 608.4M380.3 608.6L408.7 636.4M351.4 640.7L377.4 664.6M379.8 637.6L404.2 664.6M906.4 639.5L881 664.8" stroke="#000" stroke-width="0.725" fill="none"/>
<path d="M330.5 89.5L352.4 115.5M360.4 89.5L379.4 111M449.9 89.5L469.6 111.8M509.6 89.5L536.2 113M539.5 89.5L568.1 113M629 89.5L600.6 113M658.9 89.5L631.3 113M688.7 89.5L661.6 112.4M718.5 298.5L697 274.2M778.2 89.5L758.5 112.4M808.1 89.5L789 112.4M867.8 89.5L848.5 112M867.8 298.5L848.8 274.9M330.5 119.4L353 145.9M927.5 268.6L904.4 249M353 145.9L378.2 166.9M840.8 144.5L810.3 169.3M903.3 138.2L874.3 164.2M352.4 180.1L377.4 201.2M438.3 176.4L469.6 203.8M533.2 176.4L502.9 211M565.1 176.8L537.3 209.9M717 183.1L685.5 209.9M779.8 180.9L750.4 205.9M842.4 178.4L811.9 204.4M353 216L381.9 239.3M718.7 216.6L746.3 240.8M781.5 217L809.9 240.2M842.4 213.4L809.9 240.2M874.3 222.7L904.4 249M353.4 245.5L377.6 272.5M360.4 298.5L378.2 319.5M449.9 298.5L467.1 319.8M449.9 686.5L432.3 664.6M479.8 298.5L497.7 320M479.8 686.5L461.5 664.6M509.6 298.5L528.6 320M509.6 686.5L491.2 664.6M539.5 686.5L521.8 664.7M599.2 686.5L616.9 664.8M629 686.5L648 664.8M688.7 298.5L707.7 320.5M718.5 298.5L736.2 320.4M808.1 686.5L827 664.8M330.5 388L352.4 369.5M330.5 477.6L353.4 451.9M927.5 537.3L906.4 554.8M927.5 567.1L905.8 585.2M330.5 597L352.4 614.7M927.5 656.7L906.4 639.5M679.4 320.4L710.9 347.5M854.2 320.3L876.9 348.5M380.3 346.5L352.4 369.5M380.3 346.5L402.2 366M876.9 348.5L856 372M824.9 376.2L846.3 402.6M447.9 440.8L471.3 468.2M664.8 443.8L690.2 473.7M353.4 451.9L382.5 476.7M505.4 468.2L476.9 500.7M541.3 475.7L571.8 502.1M610.4 477.7L635.4 508.1M645.5 473.7L666.9 499.1M756.5 483.2L729.1 505.2M820.1 476.3L797.1 504.5M541.3 514.2L570.4 539.1M602.9 513L570.4 539.1M602.9 513L637.2 541.2M875.5 511.1L852 539.9M603.3 546.6L627.7 574.7M637.2 541.2L662.2 570M704.8 542.6L729.1 571.6M738.8 537.5L761.2 562.5M435.1 579.8L458 606M465.8 571L489.1 599M852 574.7L876.3 603.3M404.2 592.8L427.2 612.7M844.8 608.4L820.1 636.8M905.4 612.7L879.8 633.8M352.4 614.7L379.8 637.6M408.7 636.4L432.3 664.6M850.9 637L827 664.8" stroke="#000" stroke-width="0.762" fill="none"/>
<path d="M390.2 89.5L408.7 113.4M420.1 89.5L438.1 112.4M449.9 298.5L432.5 274M479.8 298.5L460.7 273.6M509.6 298.5L488.9 272.3M599.2 89.5L568.1 113M748.4 298.5L729.6 274.3M778.2 298.5L759.6 274.4M808.1 298.5L791.2 274.9M838 89.5L820.1 112M838 298.5L820 273.5M927.5 119.4L903.3 138.2M330.5 149.2L352.4 180.1M330.5 208.9L352.4 180.1M927.5 238.8L904.8 221.5M352.4 115.5L383.5 138.2M469.6 111.8L448.9 140.9M661.6 112.4L680.1 138.2M415.4 145.3L438.3 176.4M448.9 140.9L469.6 168.3M713 144.3L747.3 170.7M775.8 144.9L810.3 169.3M406.9 179.5L377.4 201.2M629.7 179.5L607.3 210.3M779.8 180.9L811.9 204.4M502.9 211L481 240.2M572.4 212L550.5 242.9M643.9 214.6L681.9 242.9M718.7 216.6L681.9 242.9M550.5 242.9L574.6 273.8M778.2 248.4L759.6 274.4M840.8 245.3L820 273.5M360.4 686.5L377.4 664.6M420.1 298.5L404.8 319.5M420.1 298.5L436.9 319.7M420.1 686.5L404.2 664.6M569.3 686.5L553.5 664.8M569.3 686.5L585 664.8M748.4 298.5L765.8 320.4M778.2 298.5L795.8 320.4M808.1 298.5L825 320.3M838 298.5L854.2 320.3M838 686.5L855 664.8M897.6 298.5L881 319.9M897.6 686.5L881 664.8M927.5 328.3L905.8 344.8M927.5 388L906.4 371.2M927.5 417.9L906.4 401.6M927.5 447.7L905.8 431.6M927.5 447.7L905.8 463.5M330.5 477.6L352.4 505.1M927.5 477.6L905.6 494M927.5 507.4L905.4 523.7M927.5 597L905.4 612.7M330.5 656.7L351.4 640.7M436.9 319.7L418.8 342.4M620.8 320.4L641.9 348.3M825 320.3L843.8 345.3M876.9 348.5L906.4 371.2M463.7 376.8L440.4 407.7M495.4 377.3L472.9 408.7M881.4 383.3L906.4 401.6M440.4 407.7L413.4 429M472.9 408.7L447.9 440.8M507.8 409.3L486.5 437.7M879.8 413.7L855 431.6M525.1 440.4L505.4 468.2M793.7 441.8L820.1 476.3M541.3 475.7L511.9 498M820.1 476.3L846.9 497.4M381.5 509.5L352.4 531.4M635.4 508.1L671.3 535.1M765.6 517.4L738.8 537.5M825.5 520.2L852 539.9M905.4 523.7L881.8 541.2M411.3 525.3L439.4 545.6M790.6 539.9L761.2 562.5M407.9 559.4L435.1 579.8M592.7 577.1L615.1 607.2M822.5 586.3L804.6 610.4M352.4 587.9L380.3 608.6M427.2 612.7L408.7 636.4M517 610.8L537.3 638M876.3 603.3L850.9 637M820.1 636.8L798.1 664.8M879.8 633.8L855 664.8" stroke="#000" stroke-width="0.799" fill="none"/>
<path d="M360.4 298.5L377.6 272.5M420.1 298.5L404.2 273.8M927.5 149.2L904.2 165.6M927.5 179.1L904.8 193.7M927.5 208.9L904.8 193.7M438.1 112.4L415.4 145.3M504.2 112L485.1 139.4M726.5 113L744.3 138.8M789 112.4L807.9 139.4M820.1 112L840.8 144.5M618.1 143.3L597.8 174.4M649.6 149L629.7 179.5M597.8 174.4L572.4 212M660.8 186.6L687.6 168.7M717 183.1L750.4 205.9M437.3 211.3L415 244.8M537.3 209.9L515.9 242.3M607.3 210.3L584.6 243.3M781.5 217L746.3 240.8M842.4 213.4L874.3 193.3M874.3 222.7L840.8 245.3M381.9 239.3L404.2 273.8M584.6 243.3L604.4 273.6M714 248.4L697 274.2M390.2 298.5L404.8 319.5M390.2 686.5L404.2 664.6M449.9 298.5L436.9 319.7M539.5 686.5L553.5 664.8M599.2 686.5L585 664.8M867.8 298.5L854.2 320.3M867.8 298.5L881 319.9M330.5 328.3L352.4 342.8M330.5 358.2L352.4 342.8M927.5 358.2L905.8 344.8M927.5 358.2L906.4 371.2M927.5 388L906.4 401.6M927.5 417.9L905.8 431.6M927.5 477.6L905.8 463.5M927.5 507.4L905.6 494M927.5 537.3L905.4 523.7M330.5 626.8L351.4 640.7M927.5 626.8L905.4 612.7M404.8 319.5L418.8 342.4M467.1 319.8L450.5 345.9M590.5 320.3L609.4 348.3M765.8 320.4L746.9 347.5M418.8 342.4L402.2 366M450.5 345.9L432.3 374.3M481.8 347.5L463.7 376.8M641.9 348.3L660.2 378M676 348.3L693.7 376.8M710.9 347.5L728.2 374.2M746.9 347.5L728.2 374.2M780.3 347.9L762.6 376.2M843.8 345.3L824.9 376.2M377.4 381.7L402.2 366M377.4 381.7L352.4 397.5M528.1 377.3L507.8 409.3M693.7 376.8L712 405.6M793.4 380.3L811.9 408.7M644.9 411.7L664.8 443.8M678 408.7L698.3 439.8M712 405.6L731.1 435.1M879.8 413.7L905.8 431.6M352.4 424.9L382.9 444.8M486.5 437.7L505.4 468.2M558.6 441.2L576.5 470.2M595.2 441.8L576.5 470.2M664.8 443.8L645.5 473.7M855 431.6L881.4 447.9M881.4 447.9L905.8 431.6M881.4 447.9L905.8 463.5M441.2 476.7L476.9 500.7M610.4 477.7L571.8 502.1M724.8 469L698.5 509M879.4 480.4L905.8 463.5M729.1 505.2L704.8 542.6M380.3 542L352.4 559.4M380.3 542L407.9 559.4M821.5 553.7L791.6 574.7M821.5 553.7L852 574.7M906.4 554.8L881 571.6M378.2 574.7L404.2 592.8M560.2 573L582 608M627.7 574.7L647.8 604.1M791.6 574.7L773.8 602.1M905.8 585.2L876.3 603.3M404.2 592.8L380.3 608.6M427.2 612.7L443.8 638.6M582 608L600.8 638.4M804.6 610.4L787 637M443.8 638.6L461.5 664.6M504.4 639L521.8 664.7M727.2 636.6L709.9 664.8M787 637L768.7 664.8" stroke="#000" stroke-width="0.835" fill="none"/>
<path d="M390.2 298.5L404.2 273.8M449.9 89.5L438.1 112.4M778.2 298.5L791.2 274.9M808.1 89.5L820.1 112M927.5 179.1L904.2 165.6M927.5 208.9L904.8 221.5M469.6 111.8L485.1 139.4M536.2 113L518 142.9M568.1 113L551.5 143.3M568.1 113L584.6 142.9M600.6 113L584.6 142.9M600.6 113L618.1 143.3M695.7 111.8L680.1 138.2M695.7 111.8L713 144.3M758.5 112.4L744.3 138.8M758.5 112.4L775.8 144.9M415.4 145.3L378.2 166.9M485.1 139.4L469.6 168.3M518 142.9L500.9 175M551.5 143.3L533.2 176.4M584.6 142.9L565.1 176.8M649.6 149L687.6 168.7M840.8 144.5L874.3 164.2M660.8 186.6L643.9 214.6M353 216L377.4 201.2M469.6 203.8L448.9 242.9M415 244.8L432.5 274M448.9 242.9L432.5 274M481 240.2L460.7 273.6M617.5 242.9L634.8 273.9M650 246.3L634.8 273.9M650 246.3L666.3 274.3M714 248.4L729.6 274.3M809.9 240.2L791.2 274.9M390.2 298.5L378.2 319.5M390.2 686.5L377.4 664.6M420.1 686.5L432.3 664.6M449.9 686.5L461.5 664.6M479.8 298.5L467.1 319.8M479.8 686.5L491.2 664.6M509.6 298.5L497.7 320M509.6 686.5L521.8 664.7M629 686.5L616.9 664.8M748.4 298.5L736.2 320.4M778.2 298.5L765.8 320.4M808.1 298.5L795.8 320.4M838 298.5L825 320.3M867.8 686.5L855 664.8M867.8 686.5L881 664.8M330.5 358.2L352.4 369.5M927.5 567.1L906.4 554.8M927.5 597L905.8 585.2M330.5 626.8L352.4 614.7M927.5 626.8L906.4 639.5M436.9 319.7L450.5 345.9M467.1 319.8L481.8 347.5M497.7 320L481.8 347.5M497.7 320L512.9 347.5M528.6 320L512.9 347.5M528.6 320L544.4 347.5M560.3 320.3L544.4 347.5M560.3 320.3L576.9 347.9M765.8 320.4L780.3 347.9M795.8 320.4L780.3 347.9M795.8 320.4L811.9 347.5M512.9 347.5L495.4 377.3M544.4 347.5L528.1 377.3M544.4 347.5L560.6 377.5M576.9 347.9L560.6 377.5M576.9 347.9L594.1 378M609.4 348.3L594.1 378M609.4 348.3L627.3 378.2M676 348.3L660.2 378M710.9 347.5L693.7 376.8M746.9 347.5L762.6 376.2M811.9 347.5L793.4 380.3M560.6 377.5L542.8 408.7M594.1 378L576.9 409.7M594.1 378L611 409.3M627.3 378.2L611 409.3M627.3 378.2L644.9 411.7M660.2 378L678 408.7M728.2 374.2L712 405.6M728.2 374.2L746.3 405.6M762.6 376.2L746.3 405.6M793.4 380.3L776.8 412.1M881.4 383.3L846.3 402.6M352.4 397.5L380.9 413.7M408.3 397.1L380.9 413.7M507.8 409.3L525.1 440.4M542.8 408.7L525.1 440.4M576.9 409.7L558.6 441.2M576.9 409.7L595.2 441.8M611 409.3L629.1 442.8M746.3 405.6L731.1 435.1M776.8 412.1L793.7 441.8M811.9 408.7L793.7 441.8M846.3 402.6L824.9 440.2M413.4 429L382.9 444.8M447.9 440.8L412.7 460.1M629.1 442.8L610.4 477.7M629.1 442.8L645.5 473.7M760.5 447.9L724.8 469M881.4 447.9L851.3 464.9M382.9 444.8L412.7 460.1M412.7 460.1L441.2 476.7M412.7 460.1L382.5 476.7M441.2 476.7L411.3 494M756.5 483.2L797.1 504.5M851.3 464.9L879.4 480.4M879.4 480.4L846.9 497.4M879.4 480.4L905.6 494M382.5 476.7L411.3 494M381.5 509.5L411.3 494M381.5 509.5L411.3 525.3M411.3 494L443.8 510.7M511.9 498L541.3 514.2M797.1 504.5L825.5 520.2M875.5 511.1L905.6 494M825.5 520.2L790.6 539.9M411.3 525.3L380.3 542M503.8 529.8L534.6 547.3M570.4 539.1L592.7 577.1M671.3 535.1L694.7 574.7M881.8 541.2L906.4 554.8M352.4 559.4L378.2 574.7M407.9 559.4L378.2 574.7M497.7 563.5L525.3 580.2M525.3 580.2L489.1 599M694.7 574.7L712 605.3M881 571.6L905.8 585.2M458 606L474.9 634.2M550.1 606.1L568.8 638M615.1 607.2L632.7 636.6M712 605.3L695.1 636.6M773.8 602.1L756.5 633.8M804.6 610.4L820.1 636.8M474.9 634.2L491.2 664.6M504.4 639L491.2 664.6M537.3 638L521.8 664.7M537.3 638L553.5 664.8M568.8 638L553.5 664.8M568.8 638L585 664.8M600.8 638.4L585 664.8M600.8 638.4L616.9 664.8M632.7 636.6L616.9 664.8M632.7 636.6L648 664.8M663.8 636.6L648 664.8M663.8 636.6L679 664.8M695.1 636.6L679 664.8M695.1 636.6L709.9 664.8M756.5 633.8L739.6 664.8" stroke="#000" stroke-width="0.872" fill="none"/>
<path d="M390.2 89.5L379.4 111M390.2 298.5L377.6 272.5M420.1 89.5L408.7 113.4M420.1 298.5L432.5 274M449.9 298.5L460.7 273.6M479.8 89.5L469.6 111.8M718.5 298.5L729.6 274.3M748.4 89.5L758.5 112.4M748.4 298.5L759.6 274.4M778.2 89.5L789 112.4M808.1 298.5L820 273.5M838 89.5L848.5 112M838 298.5L848.8 274.9M867.8 89.5L877.8 111M867.8 298.5L877.8 276.8M927.5 149.2L903.3 138.2M927.5 238.8L904.4 249M504.2 112L518 142.9M536.2 113L551.5 143.3M631.3 113L618.1 143.3M631.3 113L649.6 149M726.5 113L713 144.3M789 112.4L775.8 144.9M820.1 112L807.9 139.4M485.1 139.4L500.9 175M518 142.9L533.2 176.4M551.5 143.3L565.1 176.8M584.6 142.9L597.8 174.4M352.4 180.1L378.2 166.9M378.2 166.9L406.9 179.5M687.6 168.7L717 183.1M717 183.1L747.3 170.7M842.4 178.4L874.3 164.2M842.4 178.4L874.3 193.3M377.4 201.2L405.6 214M502.9 211L515.9 242.3M781.5 217L811.9 204.4M617.5 242.9L604.4 273.6M681.9 242.9L666.3 274.3M681.9 242.9L697 274.2M746.3 240.8L729.6 274.3M778.2 248.4L791.2 274.9M539.5 298.5L528.6 320M569.3 298.5L560.3 320.3M658.9 686.5L648 664.8M688.7 298.5L679.4 320.4M688.7 686.5L679 664.8M718.5 298.5L707.7 320.5M748.4 686.5L739.6 664.8M778.2 686.5L768.7 664.8M808.1 686.5L798.1 664.8M838 686.5L827 664.8M330.5 328.3L352.4 318.8M927.5 328.3L905.8 319.5M330.5 388L352.4 397.5M330.5 597L352.4 587.9M590.5 320.3L576.9 347.9M620.8 320.4L609.4 348.3M825 320.3L811.9 347.5M854.2 320.3L843.8 345.3M418.8 342.4L432.3 374.3M450.5 345.9L463.7 376.8M481.8 347.5L495.4 377.3M512.9 347.5L528.1 377.3M641.9 348.3L627.3 378.2M811.9 347.5L824.9 376.2M843.8 345.3L856 372M352.4 369.5L377.4 381.7M377.4 381.7L408.3 397.1M528.1 377.3L542.8 408.7M560.6 377.5L576.9 409.7M660.2 378L644.9 411.7M693.7 376.8L678 408.7M856 372L881.4 383.3M881.4 383.3L906.4 371.2M472.9 408.7L486.5 437.7M542.8 408.7L558.6 441.2M611 409.3L595.2 441.8M644.9 411.7L629.1 442.8M776.8 412.1L760.5 447.9M811.9 408.7L824.9 440.2M879.8 413.7L906.4 401.6M380.9 413.7L413.4 429M486.5 437.7L471.3 468.2M525.1 440.4L541.3 475.7M558.6 441.2L541.3 475.7M595.2 441.8L610.4 477.7M731.1 435.1L760.5 447.9M724.8 469L756.5 483.2M443.8 510.7L411.3 525.3M541.3 514.2L503.8 529.8M765.6 517.4L797.1 504.5M846.9 497.4L875.5 511.1M875.5 511.1L905.4 523.7M439.4 545.6L407.9 559.4M534.6 547.3L497.7 563.5M790.6 539.9L821.5 553.7M852 539.9L821.5 553.7M378.2 574.7L352.4 587.9M435.1 579.8L404.2 592.8M662.2 570L647.8 604.1M662.2 570L679.5 605.3M694.7 574.7L679.5 605.3M729.1 571.6L712 605.3M729.1 571.6L743.7 601.5M761.2 562.5L743.7 601.5M458 606L443.8 638.6M489.1 599L517 610.8M517 610.8L504.4 639M582 608L568.8 638M615.1 607.2L600.8 638.4M647.8 604.1L632.7 636.6M647.8 604.1L663.8 636.6M679.5 605.3L663.8 636.6M679.5 605.3L695.1 636.6M712 605.3L727.2 636.6M743.7 601.5L727.2 636.6M443.8 638.6L432.3 664.6M474.9 634.2L461.5 664.6M727.2 636.6L739.6 664.8" stroke="#000" stroke-width="0.908" fill="none"/>
<path d="M360.4 89.5L352.4 115.5M360.4 298.5L352.4 274.3M479.8 298.5L488.9 272.3M509.6 298.5L516.5 274.3M658.9 298.5L666.3 274.3M688.7 89.5L695.7 111.8M688.7 298.5L697 274.2M718.5 89.5L726.5 113M897.6 89.5L904.8 111.8M897.6 298.5L904.4 275.8M927.5 119.4L904.8 111.8M330.5 208.9L353 216M330.5 238.8L353.4 245.5M927.5 268.6L904.4 275.8M438.1 112.4L448.9 140.9M661.6 112.4L649.6 149M448.9 140.9L438.3 176.4M618.1 143.3L629.7 179.5M649.6 149L680.1 138.2M649.6 149L660.8 186.6M629.7 179.5L643.9 214.6M747.3 170.7L779.8 180.9M779.8 180.9L810.3 169.3M810.3 169.3L842.4 178.4M405.6 214L415 244.8M437.3 211.3L448.9 242.9M469.6 203.8L481 240.2M537.3 209.9L550.5 242.9M572.4 212L584.6 243.3M607.3 210.3L617.5 242.9M718.7 216.6L750.4 205.9M750.4 205.9L781.5 217M811.9 204.4L842.4 213.4M842.4 213.4L874.3 222.7M415 244.8L404.2 273.8M448.9 242.9L460.7 273.6M584.6 243.3L574.6 273.8M746.3 240.8L759.6 274.4M809.9 240.2L820 273.5M360.4 298.5L352.4 318.8M360.4 686.5L352.4 665M599.2 298.5L590.5 320.3M629 298.5L620.8 320.4M658.9 298.5L650 320.4M718.5 686.5L709.9 664.8M897.6 298.5L905.8 319.5M897.6 686.5L905.8 664.8M330.5 417.9L352.4 424.9M330.5 567.1L352.4 559.4M330.5 656.7L352.4 665M927.5 656.7L905.8 664.8M650 320.4L641.9 348.3M736.2 320.4L746.9 347.5M780.3 347.9L793.4 380.3M463.7 376.8L472.9 408.7M495.4 377.3L507.8 409.3M762.6 376.2L776.8 412.1M824.9 376.2L811.9 408.7M856 372L846.3 402.6M408.3 397.1L440.4 407.7M678 408.7L664.8 443.8M712 405.6L698.3 439.8M746.3 405.6L760.5 447.9M846.3 402.6L879.8 413.7M846.3 402.6L855 431.6M380.9 413.7L352.4 424.9M413.4 429L447.9 440.8M824.9 440.2L855 431.6M441.2 476.7L471.3 468.2M645.5 473.7L635.4 508.1M756.5 483.2L787 473.7M787 473.7L797.1 504.5M820.1 476.3L851.3 464.9M443.8 510.7L476.9 500.7M541.3 514.2L571.8 502.1M571.8 502.1L602.9 513M635.4 508.1L666.9 499.1M666.9 499.1L698.5 509M729.1 505.2L765.6 517.4M729.1 505.2L738.8 537.5M352.4 531.4L380.3 542M439.4 545.6L470.8 535.5M570.4 539.1L560.2 573M534.6 547.3L525.3 580.2M603.3 546.6L592.7 577.1M637.2 541.2L627.7 574.7M704.8 542.6L694.7 574.7M738.8 537.5L729.1 571.6M435.1 579.8L465.8 571M560.2 573L550.1 606.1M592.7 577.1L582 608M627.7 574.7L615.1 607.2M729.1 571.6L761.2 562.5M761.2 562.5L791.6 574.7M761.2 562.5L773.8 602.1M791.6 574.7L822.5 586.3M791.6 574.7L804.6 610.4M852 574.7L822.5 586.3M489.1 599L474.9 634.2M489.1 599L504.4 639M550.1 606.1L537.3 638M743.7 601.5L756.5 633.8M773.8 602.1L787 637M876.3 603.3L905.4 612.7M756.5 633.8L768.7 664.8M787 637L798.1 664.8" stroke="#000" stroke-width="0.945" fill="none"/>
<path d="M330.5 89.5L360.4 89.5M330.5 89.5L330.5 119.4M330.5 298.5L360.4 298.5M330.5 298.5L330.5 268.6M360.4 89.5L390.2 89.5M360.4 298.5L390.2 298.5M390.2 89.5L420.1 89.5M390.2 298.5L420.1 298.5M420.1 89.5L449.9 89.5M420.1 298.5L449.9 298.5M449.9 89.5L479.8 89.5M449.9 298.5L479.8 298.5M479.8 89.5L509.6 89.5M479.8 298.5L509.6 298.5M509.6 89.5L539.5 89.5M509.6 89.5L504.2 112M509.6 298.5L539.5 298.5M539.5 89.5L569.3 89.5M539.5 89.5L536.2 113M539.5 298.5L569.3 298.5M539.5 298.5L544.8 273.5M569.3 89.5L599.2 89.5M569.3 89.5L568.1 113M569.3 298.5L599.2 298.5M569.3 298.5L574.6 273.8M599.2 89.5L629 89.5M599.2 89.5L600.6 113M599.2 298.5L629 298.5M599.2 298.5L604.4 273.6M629 89.5L658.9 89.5M629 89.5L631.3 113M629 298.5L658.9 298.5M629 298.5L634.8 273.9M658.9 89.5L688.7 89.5M658.9 89.5L661.6 112.4M658.9 298.5L688.7 298.5M688.7 89.5L718.5 89.5M688.7 298.5L718.5 298.5M718.5 89.5L748.4 89.5M718.5 298.5L748.4 298.5M748.4 89.5L778.2 89.5M748.4 298.5L778.2 298.5M778.2 89.5L808.1 89.5M778.2 298.5L808.1 298.5M808.1 89.5L838 89.5M808.1 298.5L838 298.5M838 89.5L867.8 89.5M838 298.5L867.8 298.5M867.8 89.5L897.6 89.5M867.8 298.5L897.6 298.5M897.6 89.5L927.5 89.5M897.6 298.5L927.5 298.5M927.5 89.5L927.5 119.4M927.5 298.5L927.5 268.6M330.5 119.4L330.5 149.2M330.5 119.4L352.4 115.5M927.5 119.4L927.5 149.2M330.5 149.2L330.5 179.1M330.5 149.2L353 145.9M927.5 149.2L927.5 179.1M330.5 179.1L330.5 208.9M330.5 179.1L352.4 180.1M927.5 179.1L927.5 208.9M330.5 208.9L330.5 238.8M927.5 208.9L927.5 238.8M330.5 238.8L330.5 268.6M927.5 238.8L927.5 268.6M330.5 268.6L352.4 274.3M352.4 115.5L379.4 111M352.4 115.5L353 145.9M379.4 111L408.7 113.4M379.4 111L383.5 138.2M408.7 113.4L438.1 112.4M408.7 113.4L415.4 145.3M438.1 112.4L469.6 111.8M469.6 111.8L504.2 112M504.2 112L536.2 113M536.2 113L568.1 113M568.1 113L600.6 113M600.6 113L631.3 113M631.3 113L661.6 112.4M661.6 112.4L695.7 111.8M695.7 111.8L726.5 113M726.5 113L758.5 112.4M758.5 112.4L789 112.4M789 112.4L820.1 112M820.1 112L848.5 112M848.5 112L877.8 111M848.5 112L840.8 144.5M877.8 111L904.8 111.8M877.8 111L872.7 137.4M904.8 111.8L903.3 138.2M353 145.9L383.5 138.2M353 145.9L352.4 180.1M383.5 138.2L415.4 145.3M383.5 138.2L378.2 166.9M415.4 145.3L448.9 140.9M415.4 145.3L406.9 179.5M448.9 140.9L485.1 139.4M485.1 139.4L518 142.9M518 142.9L551.5 143.3M551.5 143.3L584.6 142.9M584.6 142.9L618.1 143.3M618.1 143.3L649.6 149M680.1 138.2L713 144.3M680.1 138.2L687.6 168.7M713 144.3L744.3 138.8M713 144.3L717 183.1M744.3 138.8L775.8 144.9M744.3 138.8L747.3 170.7M775.8 144.9L807.9 139.4M775.8 144.9L779.8 180.9M807.9 139.4L840.8 144.5M807.9 139.4L810.3 169.3M840.8 144.5L872.7 137.4M840.8 144.5L842.4 178.4M872.7 137.4L903.3 138.2M872.7 137.4L874.3 164.2M903.3 138.2L904.2 165.6M352.4 180.1L353 216M378.2 166.9L377.4 201.2M406.9 179.5L438.3 176.4M406.9 179.5L405.6 214M438.3 176.4L469.6 168.3M438.3 176.4L437.3 211.3M469.6 168.3L500.9 175M469.6 168.3L469.6 203.8M500.9 175L533.2 176.4M500.9 175L502.9 211M533.2 176.4L565.1 176.8M533.2 176.4L537.3 209.9M565.1 176.8L597.8 174.4M565.1 176.8L572.4 212M597.8 174.4L629.7 179.5M597.8 174.4L607.3 210.3M629.7 179.5L660.8 186.6M687.6 168.7L685.5 209.9M717 183.1L718.7 216.6M747.3 170.7L750.4 205.9M779.8 180.9L781.5 217M810.3 169.3L811.9 204.4M842.4 178.4L842.4 213.4M874.3 164.2L904.2 165.6M874.3 164.2L874.3 193.3M904.2 165.6L904.8 193.7M353 216L353.4 245.5M377.4 201.2L381.9 239.3M405.6 214L437.3 211.3M437.3 211.3L469.6 203.8M469.6 203.8L502.9 211M502.9 211L537.3 209.9M537.3 209.9L572.4 212M572.4 212L607.3 210.3M607.3 210.3L643.9 214.6M643.9 214.6L685.5 209.9M643.9 214.6L650 246.3M685.5 209.9L718.7 216.6M685.5 209.9L681.9 242.9M718.7 216.6L714 248.4M750.4 205.9L746.3 240.8M781.5 217L778.2 248.4M811.9 204.4L809.9 240.2M842.4 213.4L840.8 245.3M874.3 193.3L904.8 193.7M874.3 193.3L874.3 222.7M904.8 193.7L904.8 221.5M874.3 222.7L904.8 221.5M874.3 222.7L872.7 250.4M904.8 221.5L904.4 249M353.4 245.5L381.9 239.3M353.4 245.5L352.4 274.3M381.9 239.3L415 244.8M381.9 239.3L377.6 272.5M415 244.8L448.9 242.9M448.9 242.9L481 240.2M481 240.2L515.9 242.3M481 240.2L488.9 272.3M515.9 242.3L550.5 242.9M515.9 242.3L516.5 274.3M550.5 242.9L584.6 243.3M550.5 242.9L544.8 273.5M584.6 243.3L617.5 242.9M617.5 242.9L650 246.3M650 246.3L681.9 242.9M681.9 242.9L714 248.4M714 248.4L746.3 240.8M746.3 240.8L778.2 248.4M778.2 248.4L809.9 240.2M809.9 240.2L840.8 245.3M840.8 245.3L872.7 250.4M840.8 245.3L848.8 274.9M872.7 250.4L904.4 249M872.7 250.4L877.8 276.8M904.4 249L904.4 275.8M352.4 274.3L377.6 272.5M377.6 272.5L404.2 273.8M404.2 273.8L432.5 274M432.5 274L460.7 273.6M460.7 273.6L488.9 272.3M488.9 272.3L516.5 274.3M516.5 274.3L544.8 273.5M544.8 273.5L574.6 273.8M574.6 273.8L604.4 273.6M604.4 273.6L634.8 273.9M634.8 273.9L666.3 274.3M666.3 274.3L697 274.2M697 274.2L729.6 274.3M729.6 274.3L759.6 274.4M759.6 274.4L791.2 274.9M791.2 274.9L820 273.5M820 273.5L848.8 274.9M848.8 274.9L877.8 276.8M877.8 276.8L904.4 275.8M330.5 298.5L360.4 298.5M330.5 298.5L330.5 328.3M330.5 686.5L360.4 686.5M330.5 686.5L330.5 656.7M360.4 298.5L390.2 298.5M360.4 686.5L390.2 686.5M390.2 298.5L420.1 298.5M390.2 686.5L420.1 686.5M420.1 298.5L449.9 298.5M420.1 686.5L449.9 686.5M449.9 298.5L479.8 298.5M449.9 686.5L479.8 686.5M479.8 298.5L509.6 298.5M479.8 686.5L509.6 686.5M509.6 298.5L539.5 298.5M509.6 686.5L539.5 686.5M539.5 298.5L569.3 298.5M539.5 686.5L569.3 686.5M569.3 298.5L599.2 298.5M569.3 686.5L599.2 686.5M599.2 298.5L629 298.5M599.2 686.5L629 686.5M629 298.5L658.9 298.5M629 686.5L658.9 686.5M658.9 298.5L688.7 298.5M658.9 686.5L688.7 686.5M688.7 298.5L718.5 298.5M688.7 686.5L718.5 686.5M718.5 298.5L748.4 298.5M718.5 686.5L748.4 686.5M748.4 298.5L778.2 298.5M748.4 686.5L778.2 686.5M778.2 298.5L808.1 298.5M778.2 686.5L808.1 686.5M808.1 298.5L838 298.5M808.1 686.5L838 686.5M838 298.5L867.8 298.5M838 686.5L867.8 686.5M867.8 298.5L897.6 298.5M867.8 686.5L897.6 686.5M897.6 298.5L927.5 298.5M897.6 686.5L927.5 686.5M927.5 298.5L927.5 328.3M927.5 686.5L927.5 656.7M330.5 328.3L330.5 358.2M927.5 328.3L927.5 358.2M330.5 358.2L330.5 388M927.5 358.2L927.5 388M330.5 388L330.5 417.9M927.5 388L927.5 417.9M330.5 417.9L330.5 447.7M927.5 417.9L927.5 447.7M330.5 447.7L330.5 477.6M330.5 447.7L353.4 451.9M927.5 447.7L927.5 477.6M330.5 477.6L330.5 507.4M330.5 477.6L352.4 477.7M927.5 477.6L927.5 507.4M330.5 507.4L330.5 537.3M330.5 507.4L352.4 505.1M927.5 507.4L927.5 537.3M330.5 537.3L330.5 567.1M330.5 537.3L352.4 531.4M927.5 537.3L927.5 567.1M330.5 567.1L330.5 597M927.5 567.1L927.5 597M330.5 597L330.5 626.8M927.5 597L927.5 626.8M330.5 626.8L330.5 656.7M927.5 626.8L927.5 656.7M352.4 318.8L378.2 319.5M352.4 318.8L352.4 342.8M378.2 319.5L404.8 319.5M378.2 319.5L380.3 346.5M404.8 319.5L436.9 319.7M436.9 319.7L467.1 319.8M467.1 319.8L497.7 320M497.7 320L528.6 320M528.6 320L560.3 320.3M560.3 320.3L590.5 320.3M590.5 320.3L620.8 320.4M620.8 320.4L650 320.4M650 320.4L679.4 320.4M679.4 320.4L707.7 320.5M679.4 320.4L676 348.3M707.7 320.5L736.2 320.4M707.7 320.5L710.9 347.5M736.2 320.4L765.8 320.4M765.8 320.4L795.8 320.4M795.8 320.4L825 320.3M825 320.3L854.2 320.3M854.2 320.3L881 319.9M881 319.9L905.8 319.5M881 319.9L876.9 348.5M905.8 319.5L905.8 344.8M352.4 342.8L380.3 346.5M352.4 342.8L352.4 369.5M380.3 346.5L418.8 342.4M380.3 346.5L377.4 381.7M418.8 342.4L450.5 345.9M450.5 345.9L481.8 347.5M481.8 347.5L512.9 347.5M512.9 347.5L544.4 347.5M544.4 347.5L576.9 347.9M576.9 347.9L609.4 348.3M609.4 348.3L641.9 348.3M641.9 348.3L676 348.3M676 348.3L710.9 347.5M710.9 347.5L746.9 347.5M746.9 347.5L780.3 347.9M780.3 347.9L811.9 347.5M811.9 347.5L843.8 345.3M843.8 345.3L876.9 348.5M876.9 348.5L905.8 344.8M876.9 348.5L881.4 383.3M905.8 344.8L906.4 371.2M352.4 369.5L352.4 397.5M377.4 381.7L380.9 413.7M402.2 366L432.3 374.3M402.2 366L408.3 397.1M432.3 374.3L463.7 376.8M432.3 374.3L440.4 407.7M463.7 376.8L495.4 377.3M495.4 377.3L528.1 377.3M528.1 377.3L560.6 377.5M560.6 377.5L594.1 378M594.1 378L627.3 378.2M627.3 378.2L660.2 378M660.2 378L693.7 376.8M693.7 376.8L728.2 374.2M728.2 374.2L762.6 376.2M762.6 376.2L793.4 380.3M793.4 380.3L824.9 376.2M824.9 376.2L856 372M881.4 383.3L879.8 413.7M906.4 371.2L906.4 401.6M352.4 397.5L352.4 424.9M408.3 397.1L413.4 429M440.4 407.7L472.9 408.7M440.4 407.7L447.9 440.8M472.9 408.7L507.8 409.3M507.8 409.3L542.8 408.7M542.8 408.7L576.9 409.7M576.9 409.7L611 409.3M611 409.3L644.9 411.7M644.9 411.7L678 408.7M678 408.7L712 405.6M712 405.6L746.3 405.6M746.3 405.6L776.8 412.1M776.8 412.1L811.9 408.7M811.9 408.7L846.3 402.6M879.8 413.7L881.4 447.9M906.4 401.6L905.8 431.6M380.9 413.7L382.9 444.8M352.4 424.9L353.4 451.9M413.4 429L412.7 460.1M447.9 440.8L486.5 437.7M447.9 440.8L441.2 476.7M486.5 437.7L525.1 440.4M525.1 440.4L558.6 441.2M558.6 441.2L595.2 441.8M595.2 441.8L629.1 442.8M629.1 442.8L664.8 443.8M664.8 443.8L698.3 439.8M698.3 439.8L731.1 435.1M698.3 439.8L690.2 473.7M731.1 435.1L724.8 469M760.5 447.9L793.7 441.8M760.5 447.9L756.5 483.2M793.7 441.8L824.9 440.2M793.7 441.8L787 473.7M824.9 440.2L820.1 476.3M855 431.6L851.3 464.9M881.4 447.9L879.4 480.4M905.8 431.6L905.8 463.5M382.9 444.8L353.4 451.9M382.9 444.8L382.5 476.7M353.4 451.9L352.4 477.7M412.7 460.1L411.3 494M441.2 476.7L443.8 510.7M471.3 468.2L505.4 468.2M471.3 468.2L476.9 500.7M505.4 468.2L541.3 475.7M505.4 468.2L511.9 498M541.3 475.7L576.5 470.2M541.3 475.7L541.3 514.2M576.5 470.2L610.4 477.7M576.5 470.2L571.8 502.1M610.4 477.7L645.5 473.7M610.4 477.7L602.9 513M645.5 473.7L690.2 473.7M690.2 473.7L724.8 469M690.2 473.7L698.5 509M724.8 469L729.1 505.2M756.5 483.2L765.6 517.4M787 473.7L820.1 476.3M820.1 476.3L825.5 520.2M851.3 464.9L846.9 497.4M879.4 480.4L875.5 511.1M905.8 463.5L905.6 494M382.5 476.7L352.4 477.7M382.5 476.7L381.5 509.5M352.4 477.7L352.4 505.1M352.4 505.1L381.5 509.5M352.4 505.1L352.4 531.4M381.5 509.5L380.3 542M411.3 494L411.3 525.3M443.8 510.7L439.4 545.6M476.9 500.7L511.9 498M476.9 500.7L470.8 535.5M511.9 498L503.8 529.8M541.3 514.2L534.6 547.3M571.8 502.1L570.4 539.1M602.9 513L635.4 508.1M602.9 513L603.3 546.6M635.4 508.1L637.2 541.2M666.9 499.1L671.3 535.1M698.5 509L729.1 505.2M698.5 509L704.8 542.6M765.6 517.4L761.2 562.5M797.1 504.5L790.6 539.9M846.9 497.4L852 539.9M875.5 511.1L881.8 541.2M905.6 494L905.4 523.7M825.5 520.2L821.5 553.7M905.4 523.7L906.4 554.8M411.3 525.3L407.9 559.4M352.4 531.4L352.4 559.4M380.3 542L378.2 574.7M439.4 545.6L435.1 579.8M470.8 535.5L503.8 529.8M470.8 535.5L465.8 571M503.8 529.8L497.7 563.5M570.4 539.1L534.6 547.3M570.4 539.1L603.3 546.6M603.3 546.6L637.2 541.2M637.2 541.2L671.3 535.1M671.3 535.1L704.8 542.6M671.3 535.1L662.2 570M704.8 542.6L738.8 537.5M790.6 539.9L791.6 574.7M852 539.9L881.8 541.2M852 539.9L852 574.7M881.8 541.2L881 571.6M821.5 553.7L822.5 586.3M906.4 554.8L905.8 585.2M352.4 559.4L352.4 587.9M407.9 559.4L404.2 592.8M378.2 574.7L380.3 608.6M435.1 579.8L427.2 612.7M465.8 571L497.7 563.5M465.8 571L458 606M497.7 563.5L489.1 599M525.3 580.2L560.2 573M525.3 580.2L517 610.8M560.2 573L592.7 577.1M592.7 577.1L627.7 574.7M627.7 574.7L662.2 570M662.2 570L694.7 574.7M694.7 574.7L729.1 571.6M852 574.7L881 571.6M852 574.7L844.8 608.4M881 571.6L876.3 603.3M905.8 585.2L905.4 612.7M352.4 587.9L352.4 614.7M404.2 592.8L408.7 636.4M380.3 608.6L352.4 614.7M380.3 608.6L379.8 637.6M427.2 612.7L458 606M458 606L489.1 599M517 610.8L550.1 606.1M550.1 606.1L582 608M582 608L615.1 607.2M615.1 607.2L647.8 604.1M647.8 604.1L679.5 605.3M679.5 605.3L712 605.3M712 605.3L743.7 601.5M743.7 601.5L773.8 602.1M773.8 602.1L804.6 610.4M804.6 610.4L844.8 608.4M844.8 608.4L876.3 603.3M844.8 608.4L850.9 637M876.3 603.3L879.8 633.8M905.4 612.7L906.4 639.5M352.4 614.7L351.4 640.7M351.4 640.7L379.8 637.6M351.4 640.7L352.4 665M379.8 637.6L408.7 636.4M379.8 637.6L377.4 664.6M408.7 636.4L443.8 638.6M408.7 636.4L404.2 664.6M443.8 638.6L474.9 634.2M474.9 634.2L504.4 639M504.4 639L537.3 638M537.3 638L568.8 638M568.8 638L600.8 638.4M600.8 638.4L632.7 636.6M632.7 636.6L663.8 636.6M663.8 636.6L695.1 636.6M695.1 636.6L727.2 636.6M727.2 636.6L756.5 633.8M756.5 633.8L787 637M787 637L820.1 636.8M820.1 636.8L850.9 637M820.1 636.8L827 664.8M850.9 637L879.8 633.8M850.9 637L855 664.8M879.8 633.8L906.4 639.5M879.8 633.8L881 664.8M906.4 639.5L905.8 664.8M352.4 665L377.4 664.6M377.4 664.6L404.2 664.6M404.2 664.6L432.3 664.6M432.3 664.6L461.5 664.6M461.5 664.6L491.2 664.6M491.2 664.6L521.8 664.7M521.8 664.7L553.5 664.8M553.5 664.8L585 664.8M585 664.8L616.9 664.8M616.9 664.8L648 664.8M648 664.8L679 664.8M679 664.8L709.9 664.8M709.9 664.8L739.6 664.8M739.6 664.8L768.7 664.8M768.7 664.8L798.1 664.8M798.1 664.8L827 664.8M827 664.8L855 664.8M855 664.8L881 664.8M881 664.8L905.8 664.8" stroke="#000" stroke-width="0.982" fill="none"/>
<path d="M577 431h1M592 533h1M560 399h1M400 352h1M610 368h1M626 358h1M616 500h1M459 398h1M492 398h1M464 516h1M679 583h1M739 451h1M746 430h1M338 315h1M421 313h1M420 327h1M542 430h1M525 419h1M542 452h1M524 461h1M506 429h1M506 449h1M463 482h1M488 458h1M593 358h1M646 306h1M659 358h1M643 368h1M734 306h1M657 549h1M658 514h1M577 451h1M559 462h1M772 540h1M794 306h1M810 313h1M896 355h1M794 421h1M761 422h1M777 434h1M649 494h1M459 551h1M432 527h1M544 388h1M526 398h1M520 481h1M544 367h1M528 357h1M689 339h1M731 338h1M729 356h1M551 497h1M842 425h1M762 398h1M763 357h1M746 366h1M420 543h1M425 443h1M496 306h1M529 338h1M676 306h1M694 358h1M699 329h1M644 389h1M661 399h1M679 514h1M827 356h1M811 329h1M779 368h1M482 313h1M607 330h1M633 313h1M616 306h1M526 306h1M543 313h1M576 330h1M573 313h1M729 395h1M711 386h1M730 415h1M685 494h1M594 399h1M611 388h1M628 421h1M663 421h1M646 453h1M667 464h1M717 494h1M839 480h1M800 464h1M813 453h1M623 282h1M522 290h1M551 290h1M563 282h1M493 290h1M762 290h1M671 290h1M641 290h1M715 282h1M684 282h1" stroke="#000" stroke-width="1" fill="none" transform="translate(0,0.5)"/>
<line x1="330" y1="298.5" x2="927" y2="298.5" stroke="#000" stroke-width="3"/>
<line x1="330" y1="298.5" x2="927" y2="89.5" stroke="#000" stroke-width="2.83"/>
<rect x="330.5" y="89.5" width="597" height="597" fill="none" stroke="#000" stroke-width="3"/>
<path d="M626.5 358.6L626.3 341.0" stroke="#000" stroke-width="1" fill="none"/>
<path d="M627.9 345.9L626.8 341.0L625.8 341.0L625.2 346.1Z" fill="#000" stroke="#000" stroke-width="0.6"/>
<path d="M609.6 368.3L592.9 360.2" stroke="#000" stroke-width="1" fill="none"/>
<path d="M598.5 361.6L593.1 359.8L592.7 360.6L597.3 364.0Z" fill="#000" stroke="#000" stroke-width="0.6"/>
<path d="M592.9 360.2L589.5 357.0" stroke="#000" stroke-width="0.9" stroke-dasharray="1.5 1.5" fill="none"/>
<path d="M643.3 368.7L659.9 360.2" stroke="#000" stroke-width="1" fill="none"/>
<path d="M655.9 364.2L660.1 360.6L659.7 359.8L654.5 361.9Z" fill="#000" stroke="#000" stroke-width="0.6"/>
<path d="M659.9 360.2L664.9 356.5" stroke="#000" stroke-width="0.9" stroke-dasharray="1.5 1.5" fill="none"/>
<path d="M610.9 389.4L594.3 398.6" stroke="#000" stroke-width="1" fill="none"/>
<path d="M598.4 394.9L594.1 398.2L594.5 399.0L599.6 397.3Z" fill="#000" stroke="#000" stroke-width="0.6"/>
<path d="M594.3 398.6L589.6 402.5" stroke="#000" stroke-width="0.9" stroke-dasharray="1.5 1.5" fill="none"/>
<path d="M644.1 389.7L660.2 399.1" stroke="#000" stroke-width="1" fill="none"/>
<path d="M655.2 397.1L659.9 399.5L660.5 398.7L656.7 394.9Z" fill="#000" stroke="#000" stroke-width="0.6"/>
<path d="M660.2 399.1L665.8 404.3" stroke="#000" stroke-width="0.9" stroke-dasharray="1.5 1.5" fill="none"/>
<path d="M627.6 400.5L627.7 418.9" stroke="#000" stroke-width="1" fill="none"/>
<path d="M626.2 413.8L627.2 418.9L628.2 418.9L628.9 413.8Z" fill="#000" stroke="#000" stroke-width="0.6"/>
<path d="M627.7 418.9L628.2 426.2" stroke="#000" stroke-width="0.9" stroke-dasharray="1.5 1.5" fill="none"/>
<path d="M587.5 336.1L591.6 338.4" stroke="#000" stroke-width="0.9" fill="none"/>
<path d="M656.6 339.5L660.6 336.5" stroke="#000" stroke-width="0.9" fill="none"/>
<path d="M589.5 425.5L593.6 421.4" stroke="#000" stroke-width="0.9" fill="none"/>
<path d="M572.5 367.3L575.5 367.0" stroke="#000" stroke-width="0.9" fill="none"/>
<path d="M680.3 367.0L683.3 366.6" stroke="#000" stroke-width="0.9" fill="none"/>
<path d="M711.5 366.2L715.0 366.2" stroke="#000" stroke-width="0.9" fill="none"/>
<path d="M588.6 336.6L591.2 338.0" stroke="#000" stroke-width="0.9" fill="none"/>
<path d="M655.5 338.7L658.5 336.6" stroke="#000" stroke-width="0.9" fill="none"/>
<path d="M764.5 338.4L767.5 338.4" stroke="#000" stroke-width="0.9" fill="none"/>
<path d="M795.5 338.4L798.0 338.4" stroke="#000" stroke-width="0.9" fill="none"/>
<path d="M676.5 388.4L679.0 388.6" stroke="#000" stroke-width="0.9" fill="none"/>
<path d="M575.5 389.0L578.0 388.6" stroke="#000" stroke-width="0.9" fill="none"/>
<path d="M611.2 432.6L611.4 435.8" stroke="#000" stroke-width="0.9" fill="none"/>
<path d="M646.8 432.8L647.1 436.2" stroke="#000" stroke-width="0.9" fill="none"/>
<path d="M628.3 465.0L628.3 468.0" stroke="#000" stroke-width="0.9" fill="none"/>
<path d="M593.1 464.3L593.1 466.7" stroke="#000" stroke-width="0.9" fill="none"/>
<path d="M556.0 421.6L558.5 420.6" stroke="#000" stroke-width="0.9" fill="none"/>
<path d="M697.0 390.0L699.8 391.3" stroke="#000" stroke-width="0.9" fill="none"/>
<path d="M554.8 391.2L557.5 390.0" stroke="#000" stroke-width="0.9" fill="none"/>
<path d="M329 88h1v1h-1zM928 88h1v1h-1zM928 687h1v1h-1zM329 687h2v1h-2z" fill="#fff"/>
<rect x="408" y="714" width="40" height="1" fill="#ff0000"/>
<rect x="408" y="675" width="1" height="40" fill="#00ff00"/>
</g>
<g font-family="Liberation Sans, sans-serif" font-weight="bold" font-size="11px">
<text x="407.5" y="673" fill="#00f000">Y</text>
<text x="408" y="711" fill="#0000ff">Z</text>
<text x="447" y="726" fill="#ff0000">X</text>
</g>
</svg>
</body>
</html>
